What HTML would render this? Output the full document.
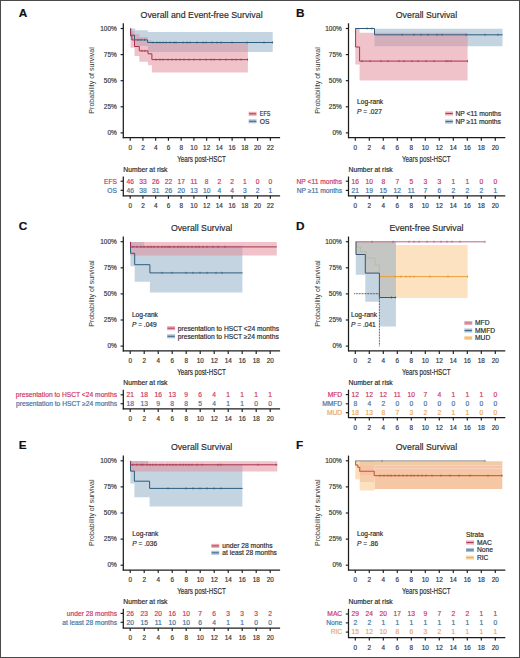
<!DOCTYPE html>
<html><head><meta charset="utf-8"><title>Survival</title>
<style>html,body{margin:0;padding:0;background:#fff;width:520px;height:658px;overflow:hidden}svg{display:block;font-family:"Liberation Sans",sans-serif}</style>
</head><body>
<svg width="520" height="658" viewBox="0 0 520 658" font-family="Liberation Sans, sans-serif">
<rect x="0" y="0" width="520" height="658" fill="#ffffff" />
<path d="M130.4 28.6H134V28.6H135.2V30.2H147.8V31.9H272.7V51.9H147.8V46H135.2V46H134V40H130.4Z" fill="rgb(137,169,195)" fill-opacity="0.5"/>
<path d="M130.6 28.6H131.5V31H134.5V34H139.3V37H148V40.5H151.9V42.6H247.9V72.4H151.9V65.3H148V61.8H139.3V56H134.5V47.8H131.5V47.8H130.6Z" fill="rgb(225,135,149)" fill-opacity="0.5"/>
<path d="M130.4 28.6H130.5V35.2H134.5V39.9H147.6V42.5H272.9" fill="none" stroke="#2e5c7e" stroke-width="1" stroke-linejoin="miter" stroke-linecap="butt"/>
<line x1="138" y1="38.8" x2="138" y2="41" stroke="#2e5c7e" stroke-width="0.7" />
<line x1="141" y1="38.8" x2="141" y2="41" stroke="#2e5c7e" stroke-width="0.7" />
<line x1="144.5" y1="38.8" x2="144.5" y2="41" stroke="#2e5c7e" stroke-width="0.7" />
<line x1="153" y1="41.4" x2="153" y2="43.6" stroke="#2e5c7e" stroke-width="0.7" />
<line x1="157" y1="41.4" x2="157" y2="43.6" stroke="#2e5c7e" stroke-width="0.7" />
<line x1="160" y1="41.4" x2="160" y2="43.6" stroke="#2e5c7e" stroke-width="0.7" />
<line x1="163" y1="41.4" x2="163" y2="43.6" stroke="#2e5c7e" stroke-width="0.7" />
<line x1="166" y1="41.4" x2="166" y2="43.6" stroke="#2e5c7e" stroke-width="0.7" />
<line x1="170" y1="41.4" x2="170" y2="43.6" stroke="#2e5c7e" stroke-width="0.7" />
<line x1="174" y1="41.4" x2="174" y2="43.6" stroke="#2e5c7e" stroke-width="0.7" />
<line x1="176" y1="41.4" x2="176" y2="43.6" stroke="#2e5c7e" stroke-width="0.7" />
<line x1="183" y1="41.4" x2="183" y2="43.6" stroke="#2e5c7e" stroke-width="0.7" />
<line x1="187" y1="41.4" x2="187" y2="43.6" stroke="#2e5c7e" stroke-width="0.7" />
<line x1="190" y1="41.4" x2="190" y2="43.6" stroke="#2e5c7e" stroke-width="0.7" />
<line x1="197" y1="41.4" x2="197" y2="43.6" stroke="#2e5c7e" stroke-width="0.7" />
<line x1="203" y1="41.4" x2="203" y2="43.6" stroke="#2e5c7e" stroke-width="0.7" />
<line x1="206" y1="41.4" x2="206" y2="43.6" stroke="#2e5c7e" stroke-width="0.7" />
<line x1="212" y1="41.4" x2="212" y2="43.6" stroke="#2e5c7e" stroke-width="0.7" />
<line x1="217" y1="41.4" x2="217" y2="43.6" stroke="#2e5c7e" stroke-width="0.7" />
<line x1="221" y1="41.4" x2="221" y2="43.6" stroke="#2e5c7e" stroke-width="0.7" />
<line x1="232" y1="41.4" x2="232" y2="43.6" stroke="#2e5c7e" stroke-width="0.7" />
<line x1="247" y1="41.4" x2="247" y2="43.6" stroke="#2e5c7e" stroke-width="0.7" />
<line x1="264" y1="41.4" x2="264" y2="43.6" stroke="#2e5c7e" stroke-width="0.7" />
<line x1="272.6" y1="41.4" x2="272.6" y2="43.6" stroke="#2e5c7e" stroke-width="0.7" />
<path d="M130.4 28.6H130.7V36H131.9V40H134.5V46.5H139.3V50.9H148V53.8H151.9V59.6H248" fill="none" stroke="#a8304e" stroke-width="1" stroke-linejoin="miter" stroke-linecap="butt"/>
<line x1="142" y1="49.8" x2="142" y2="52" stroke="#a8304e" stroke-width="0.7" />
<line x1="145" y1="49.8" x2="145" y2="52" stroke="#a8304e" stroke-width="0.7" />
<line x1="156" y1="58.5" x2="156" y2="60.7" stroke="#a8304e" stroke-width="0.7" />
<line x1="160" y1="58.5" x2="160" y2="60.7" stroke="#a8304e" stroke-width="0.7" />
<line x1="163" y1="58.5" x2="163" y2="60.7" stroke="#a8304e" stroke-width="0.7" />
<line x1="168" y1="58.5" x2="168" y2="60.7" stroke="#a8304e" stroke-width="0.7" />
<line x1="172" y1="58.5" x2="172" y2="60.7" stroke="#a8304e" stroke-width="0.7" />
<line x1="176" y1="58.5" x2="176" y2="60.7" stroke="#a8304e" stroke-width="0.7" />
<line x1="180" y1="58.5" x2="180" y2="60.7" stroke="#a8304e" stroke-width="0.7" />
<line x1="184" y1="58.5" x2="184" y2="60.7" stroke="#a8304e" stroke-width="0.7" />
<line x1="189" y1="58.5" x2="189" y2="60.7" stroke="#a8304e" stroke-width="0.7" />
<line x1="194" y1="58.5" x2="194" y2="60.7" stroke="#a8304e" stroke-width="0.7" />
<line x1="200" y1="58.5" x2="200" y2="60.7" stroke="#a8304e" stroke-width="0.7" />
<line x1="206" y1="58.5" x2="206" y2="60.7" stroke="#a8304e" stroke-width="0.7" />
<line x1="211" y1="58.5" x2="211" y2="60.7" stroke="#a8304e" stroke-width="0.7" />
<line x1="214" y1="58.5" x2="214" y2="60.7" stroke="#a8304e" stroke-width="0.7" />
<line x1="220" y1="58.5" x2="220" y2="60.7" stroke="#a8304e" stroke-width="0.7" />
<line x1="226" y1="58.5" x2="226" y2="60.7" stroke="#a8304e" stroke-width="0.7" />
<line x1="232" y1="58.5" x2="232" y2="60.7" stroke="#a8304e" stroke-width="0.7" />
<line x1="236" y1="58.5" x2="236" y2="60.7" stroke="#a8304e" stroke-width="0.7" />
<line x1="241" y1="58.5" x2="241" y2="60.7" stroke="#a8304e" stroke-width="0.7" />
<line x1="247.6" y1="58.5" x2="247.6" y2="60.7" stroke="#a8304e" stroke-width="0.7" />
<text x="18.8" y="16.5" font-size="11.8" fill="#111" font-weight="bold" stroke="#111" stroke-width="0.18">A</text>
<text x="140.6" y="17.7" font-size="9.8" fill="#2b2b2b" textLength="122" lengthAdjust="spacingAndGlyphs" stroke="#2b2b2b" stroke-width="0.18">Overall and Event-free Survival</text>
<line x1="123.3" y1="23.3" x2="123.3" y2="138.2" stroke="#1c1c1c" stroke-width="1.25" />
<line x1="120.6" y1="28.5" x2="123.3" y2="28.5" stroke="#1c1c1c" stroke-width="1.15" />
<text x="116.8" y="30.75" font-size="6.5" fill="#3a3a3a" text-anchor="end" stroke="#3a3a3a" stroke-width="0.18">100%</text>
<line x1="120.6" y1="54.6" x2="123.3" y2="54.6" stroke="#1c1c1c" stroke-width="1.15" />
<text x="116.8" y="56.85" font-size="6.5" fill="#3a3a3a" text-anchor="end" stroke="#3a3a3a" stroke-width="0.18">75%</text>
<line x1="120.6" y1="80.7" x2="123.3" y2="80.7" stroke="#1c1c1c" stroke-width="1.15" />
<text x="116.8" y="82.95" font-size="6.5" fill="#3a3a3a" text-anchor="end" stroke="#3a3a3a" stroke-width="0.18">50%</text>
<line x1="120.6" y1="106.8" x2="123.3" y2="106.8" stroke="#1c1c1c" stroke-width="1.15" />
<text x="116.8" y="109.05" font-size="6.5" fill="#3a3a3a" text-anchor="end" stroke="#3a3a3a" stroke-width="0.18">25%</text>
<line x1="120.6" y1="132.9" x2="123.3" y2="132.9" stroke="#1c1c1c" stroke-width="1.15" />
<text x="116.8" y="135.15" font-size="6.5" fill="#3a3a3a" text-anchor="end" stroke="#3a3a3a" stroke-width="0.18">0%</text>
<line x1="122.8" y1="137.7" x2="280.1" y2="137.7" stroke="#1c1c1c" stroke-width="1.25" />
<line x1="130.2" y1="137.7" x2="130.2" y2="140.7" stroke="#1c1c1c" stroke-width="1.15" />
<text x="130.2" y="150" font-size="6.4" fill="#3a3a3a" text-anchor="middle" stroke="#3a3a3a" stroke-width="0.18">0</text>
<line x1="142.94" y1="137.7" x2="142.94" y2="140.7" stroke="#1c1c1c" stroke-width="1.15" />
<text x="142.94" y="150" font-size="6.4" fill="#3a3a3a" text-anchor="middle" stroke="#3a3a3a" stroke-width="0.18">2</text>
<line x1="155.68" y1="137.7" x2="155.68" y2="140.7" stroke="#1c1c1c" stroke-width="1.15" />
<text x="155.68" y="150" font-size="6.4" fill="#3a3a3a" text-anchor="middle" stroke="#3a3a3a" stroke-width="0.18">4</text>
<line x1="168.42" y1="137.7" x2="168.42" y2="140.7" stroke="#1c1c1c" stroke-width="1.15" />
<text x="168.42" y="150" font-size="6.4" fill="#3a3a3a" text-anchor="middle" stroke="#3a3a3a" stroke-width="0.18">6</text>
<line x1="181.16" y1="137.7" x2="181.16" y2="140.7" stroke="#1c1c1c" stroke-width="1.15" />
<text x="181.16" y="150" font-size="6.4" fill="#3a3a3a" text-anchor="middle" stroke="#3a3a3a" stroke-width="0.18">8</text>
<line x1="193.9" y1="137.7" x2="193.9" y2="140.7" stroke="#1c1c1c" stroke-width="1.15" />
<text x="193.9" y="150" font-size="6.4" fill="#3a3a3a" text-anchor="middle" stroke="#3a3a3a" stroke-width="0.18">10</text>
<line x1="206.64" y1="137.7" x2="206.64" y2="140.7" stroke="#1c1c1c" stroke-width="1.15" />
<text x="206.64" y="150" font-size="6.4" fill="#3a3a3a" text-anchor="middle" stroke="#3a3a3a" stroke-width="0.18">12</text>
<line x1="219.38" y1="137.7" x2="219.38" y2="140.7" stroke="#1c1c1c" stroke-width="1.15" />
<text x="219.38" y="150" font-size="6.4" fill="#3a3a3a" text-anchor="middle" stroke="#3a3a3a" stroke-width="0.18">14</text>
<line x1="232.12" y1="137.7" x2="232.12" y2="140.7" stroke="#1c1c1c" stroke-width="1.15" />
<text x="232.12" y="150" font-size="6.4" fill="#3a3a3a" text-anchor="middle" stroke="#3a3a3a" stroke-width="0.18">16</text>
<line x1="244.86" y1="137.7" x2="244.86" y2="140.7" stroke="#1c1c1c" stroke-width="1.15" />
<text x="244.86" y="150" font-size="6.4" fill="#3a3a3a" text-anchor="middle" stroke="#3a3a3a" stroke-width="0.18">18</text>
<line x1="257.6" y1="137.7" x2="257.6" y2="140.7" stroke="#1c1c1c" stroke-width="1.15" />
<text x="257.6" y="150" font-size="6.4" fill="#3a3a3a" text-anchor="middle" stroke="#3a3a3a" stroke-width="0.18">20</text>
<line x1="270.34" y1="137.7" x2="270.34" y2="140.7" stroke="#1c1c1c" stroke-width="1.15" />
<text x="270.34" y="150" font-size="6.4" fill="#3a3a3a" text-anchor="middle" stroke="#3a3a3a" stroke-width="0.18">22</text>
<text x="177.2" y="162.1" font-size="9.4" fill="#2b2b2b" textLength="48.6" lengthAdjust="spacingAndGlyphs" stroke="#2b2b2b" stroke-width="0.18">Years post-HSCT</text>
<text transform="translate(94.1 80.4) rotate(-90)" x="0" y="0" font-size="8" fill="#333" text-anchor="middle" textLength="66.5" lengthAdjust="spacingAndGlyphs">Probability of survival</text>
<rect x="248.6" y="111.8" width="8" height="4" fill="rgb(225,135,149)" fill-opacity="0.7"/>
<line x1="249" y1="113.8" x2="256.2" y2="113.8" stroke="#a8304e" stroke-width="0.9" />
<text x="259.8" y="116.1" font-size="6.7" fill="#2b2b2b" textLength="10.6" lengthAdjust="spacingAndGlyphs" stroke="#2b2b2b" stroke-width="0.18">EFS</text>
<rect x="248.6" y="119.3" width="8" height="4" fill="rgb(137,169,195)" fill-opacity="0.7"/>
<line x1="249" y1="121.3" x2="256.2" y2="121.3" stroke="#2e5c7e" stroke-width="0.9" />
<text x="259.8" y="123.6" font-size="6.7" fill="#2b2b2b" stroke="#2b2b2b" stroke-width="0.18">OS</text>
<text x="123.3" y="171.5" font-size="6.7" fill="#2b2b2b" textLength="44.2" lengthAdjust="spacingAndGlyphs" stroke="#2b2b2b" stroke-width="0.18">Number at risk</text>
<line x1="123.3" y1="176.5" x2="123.3" y2="196.3" stroke="#1c1c1c" stroke-width="1.25" />
<line x1="122.8" y1="195.8" x2="280.1" y2="195.8" stroke="#1c1c1c" stroke-width="1.25" />
<line x1="130.2" y1="195.8" x2="130.2" y2="198.8" stroke="#1c1c1c" stroke-width="1.15" />
<text x="130.2" y="207.8" font-size="6.4" fill="#3a3a3a" text-anchor="middle" stroke="#3a3a3a" stroke-width="0.18">0</text>
<line x1="142.94" y1="195.8" x2="142.94" y2="198.8" stroke="#1c1c1c" stroke-width="1.15" />
<text x="142.94" y="207.8" font-size="6.4" fill="#3a3a3a" text-anchor="middle" stroke="#3a3a3a" stroke-width="0.18">2</text>
<line x1="155.68" y1="195.8" x2="155.68" y2="198.8" stroke="#1c1c1c" stroke-width="1.15" />
<text x="155.68" y="207.8" font-size="6.4" fill="#3a3a3a" text-anchor="middle" stroke="#3a3a3a" stroke-width="0.18">4</text>
<line x1="168.42" y1="195.8" x2="168.42" y2="198.8" stroke="#1c1c1c" stroke-width="1.15" />
<text x="168.42" y="207.8" font-size="6.4" fill="#3a3a3a" text-anchor="middle" stroke="#3a3a3a" stroke-width="0.18">6</text>
<line x1="181.16" y1="195.8" x2="181.16" y2="198.8" stroke="#1c1c1c" stroke-width="1.15" />
<text x="181.16" y="207.8" font-size="6.4" fill="#3a3a3a" text-anchor="middle" stroke="#3a3a3a" stroke-width="0.18">8</text>
<line x1="193.9" y1="195.8" x2="193.9" y2="198.8" stroke="#1c1c1c" stroke-width="1.15" />
<text x="193.9" y="207.8" font-size="6.4" fill="#3a3a3a" text-anchor="middle" stroke="#3a3a3a" stroke-width="0.18">10</text>
<line x1="206.64" y1="195.8" x2="206.64" y2="198.8" stroke="#1c1c1c" stroke-width="1.15" />
<text x="206.64" y="207.8" font-size="6.4" fill="#3a3a3a" text-anchor="middle" stroke="#3a3a3a" stroke-width="0.18">12</text>
<line x1="219.38" y1="195.8" x2="219.38" y2="198.8" stroke="#1c1c1c" stroke-width="1.15" />
<text x="219.38" y="207.8" font-size="6.4" fill="#3a3a3a" text-anchor="middle" stroke="#3a3a3a" stroke-width="0.18">14</text>
<line x1="232.12" y1="195.8" x2="232.12" y2="198.8" stroke="#1c1c1c" stroke-width="1.15" />
<text x="232.12" y="207.8" font-size="6.4" fill="#3a3a3a" text-anchor="middle" stroke="#3a3a3a" stroke-width="0.18">16</text>
<line x1="244.86" y1="195.8" x2="244.86" y2="198.8" stroke="#1c1c1c" stroke-width="1.15" />
<text x="244.86" y="207.8" font-size="6.4" fill="#3a3a3a" text-anchor="middle" stroke="#3a3a3a" stroke-width="0.18">18</text>
<line x1="257.6" y1="195.8" x2="257.6" y2="198.8" stroke="#1c1c1c" stroke-width="1.15" />
<text x="257.6" y="207.8" font-size="6.4" fill="#3a3a3a" text-anchor="middle" stroke="#3a3a3a" stroke-width="0.18">20</text>
<line x1="270.34" y1="195.8" x2="270.34" y2="198.8" stroke="#1c1c1c" stroke-width="1.15" />
<text x="270.34" y="207.8" font-size="6.4" fill="#3a3a3a" text-anchor="middle" stroke="#3a3a3a" stroke-width="0.18">22</text>
<line x1="120.6" y1="181.2" x2="123.3" y2="181.2" stroke="#1c1c1c" stroke-width="1.15" />
<text x="117" y="183.5" font-size="6.7" fill="#cc3660" text-anchor="end" stroke="#cc3660" stroke-width="0.18">EFS</text>
<text x="130.2" y="183.5" font-size="6.7" fill="#cc3660" text-anchor="middle" stroke="#cc3660" stroke-width="0.18">46</text>
<text x="142.94" y="183.5" font-size="6.7" fill="#cc3660" text-anchor="middle" stroke="#cc3660" stroke-width="0.18">33</text>
<text x="155.68" y="183.5" font-size="6.7" fill="#cc3660" text-anchor="middle" stroke="#cc3660" stroke-width="0.18">26</text>
<text x="168.42" y="183.5" font-size="6.7" fill="#cc3660" text-anchor="middle" stroke="#cc3660" stroke-width="0.18">22</text>
<text x="181.16" y="183.5" font-size="6.7" fill="#cc3660" text-anchor="middle" stroke="#cc3660" stroke-width="0.18">17</text>
<text x="193.9" y="183.5" font-size="6.7" fill="#cc3660" text-anchor="middle" stroke="#cc3660" stroke-width="0.18">11</text>
<text x="206.64" y="183.5" font-size="6.7" fill="#cc3660" text-anchor="middle" stroke="#cc3660" stroke-width="0.18">8</text>
<text x="219.38" y="183.5" font-size="6.7" fill="#cc3660" text-anchor="middle" stroke="#cc3660" stroke-width="0.18">2</text>
<text x="232.12" y="183.5" font-size="6.7" fill="#cc3660" text-anchor="middle" stroke="#cc3660" stroke-width="0.18">2</text>
<text x="244.86" y="183.5" font-size="6.7" fill="#cc3660" text-anchor="middle" stroke="#cc3660" stroke-width="0.18">1</text>
<text x="257.6" y="183.5" font-size="6.7" fill="#cc3660" text-anchor="middle" stroke="#cc3660" stroke-width="0.18">0</text>
<text x="270.34" y="183.5" font-size="6.7" fill="#cc3660" text-anchor="middle" stroke="#cc3660" stroke-width="0.18">0</text>
<line x1="120.6" y1="190.3" x2="123.3" y2="190.3" stroke="#1c1c1c" stroke-width="1.15" />
<text x="117" y="192.6" font-size="6.7" fill="#4272a2" text-anchor="end" stroke="#4272a2" stroke-width="0.18">OS</text>
<text x="130.2" y="192.6" font-size="6.7" fill="#4272a2" text-anchor="middle" stroke="#4272a2" stroke-width="0.18">46</text>
<text x="142.94" y="192.6" font-size="6.7" fill="#4272a2" text-anchor="middle" stroke="#4272a2" stroke-width="0.18">38</text>
<text x="155.68" y="192.6" font-size="6.7" fill="#4272a2" text-anchor="middle" stroke="#4272a2" stroke-width="0.18">31</text>
<text x="168.42" y="192.6" font-size="6.7" fill="#4272a2" text-anchor="middle" stroke="#4272a2" stroke-width="0.18">26</text>
<text x="181.16" y="192.6" font-size="6.7" fill="#4272a2" text-anchor="middle" stroke="#4272a2" stroke-width="0.18">20</text>
<text x="193.9" y="192.6" font-size="6.7" fill="#4272a2" text-anchor="middle" stroke="#4272a2" stroke-width="0.18">13</text>
<text x="206.64" y="192.6" font-size="6.7" fill="#4272a2" text-anchor="middle" stroke="#4272a2" stroke-width="0.18">10</text>
<text x="219.38" y="192.6" font-size="6.7" fill="#4272a2" text-anchor="middle" stroke="#4272a2" stroke-width="0.18">4</text>
<text x="232.12" y="192.6" font-size="6.7" fill="#4272a2" text-anchor="middle" stroke="#4272a2" stroke-width="0.18">4</text>
<text x="244.86" y="192.6" font-size="6.7" fill="#4272a2" text-anchor="middle" stroke="#4272a2" stroke-width="0.18">3</text>
<text x="257.6" y="192.6" font-size="6.7" fill="#4272a2" text-anchor="middle" stroke="#4272a2" stroke-width="0.18">2</text>
<text x="270.34" y="192.6" font-size="6.7" fill="#4272a2" text-anchor="middle" stroke="#4272a2" stroke-width="0.18">1</text>
<path d="M355.3 28.5H374.5V28.7H502.5V46.2H374.5V28.9H355.3Z" fill="rgb(137,169,195)" fill-opacity="0.5"/>
<path d="M355.3 28.5H359.6V32.8H467.6V80.5H359.6V64.6H355.3Z" fill="rgb(225,135,149)" fill-opacity="0.5"/>
<path d="M355.3 28.5H374.5V34.8H502.7" fill="none" stroke="#2e5c7e" stroke-width="1" stroke-linejoin="miter" stroke-linecap="butt"/>
<line x1="367" y1="27.4" x2="367" y2="29.6" stroke="#2e5c7e" stroke-width="0.7" />
<line x1="372" y1="27.4" x2="372" y2="29.6" stroke="#2e5c7e" stroke-width="0.7" />
<line x1="402" y1="33.7" x2="402" y2="35.9" stroke="#2e5c7e" stroke-width="0.7" />
<line x1="414" y1="33.7" x2="414" y2="35.9" stroke="#2e5c7e" stroke-width="0.7" />
<line x1="421" y1="33.7" x2="421" y2="35.9" stroke="#2e5c7e" stroke-width="0.7" />
<line x1="428" y1="33.7" x2="428" y2="35.9" stroke="#2e5c7e" stroke-width="0.7" />
<line x1="437" y1="33.7" x2="437" y2="35.9" stroke="#2e5c7e" stroke-width="0.7" />
<line x1="442" y1="33.7" x2="442" y2="35.9" stroke="#2e5c7e" stroke-width="0.7" />
<line x1="466" y1="33.7" x2="466" y2="35.9" stroke="#2e5c7e" stroke-width="0.7" />
<line x1="485" y1="33.7" x2="485" y2="35.9" stroke="#2e5c7e" stroke-width="0.7" />
<line x1="498" y1="33.7" x2="498" y2="35.9" stroke="#2e5c7e" stroke-width="0.7" />
<path d="M355.3 28.5H355.6V47H359.6V61.1H467.8" fill="none" stroke="#a8304e" stroke-width="1" stroke-linejoin="miter" stroke-linecap="butt"/>
<line x1="362" y1="60" x2="362" y2="62.2" stroke="#a8304e" stroke-width="0.7" />
<line x1="370" y1="60" x2="370" y2="62.2" stroke="#a8304e" stroke-width="0.7" />
<line x1="381" y1="60" x2="381" y2="62.2" stroke="#a8304e" stroke-width="0.7" />
<line x1="388" y1="60" x2="388" y2="62.2" stroke="#a8304e" stroke-width="0.7" />
<line x1="399" y1="60" x2="399" y2="62.2" stroke="#a8304e" stroke-width="0.7" />
<line x1="404" y1="60" x2="404" y2="62.2" stroke="#a8304e" stroke-width="0.7" />
<line x1="412" y1="60" x2="412" y2="62.2" stroke="#a8304e" stroke-width="0.7" />
<line x1="418" y1="60" x2="418" y2="62.2" stroke="#a8304e" stroke-width="0.7" />
<line x1="426" y1="60" x2="426" y2="62.2" stroke="#a8304e" stroke-width="0.7" />
<line x1="434" y1="60" x2="434" y2="62.2" stroke="#a8304e" stroke-width="0.7" />
<line x1="446" y1="60" x2="446" y2="62.2" stroke="#a8304e" stroke-width="0.7" />
<line x1="448" y1="60" x2="448" y2="62.2" stroke="#a8304e" stroke-width="0.7" />
<line x1="451" y1="60" x2="451" y2="62.2" stroke="#a8304e" stroke-width="0.7" />
<line x1="467.5" y1="60" x2="467.5" y2="62.2" stroke="#a8304e" stroke-width="0.7" />
<text x="296" y="16.5" font-size="11.8" fill="#111" font-weight="bold" stroke="#111" stroke-width="0.18">B</text>
<text x="395.8" y="17.7" font-size="9.8" fill="#2b2b2b" textLength="61.4" lengthAdjust="spacingAndGlyphs" stroke="#2b2b2b" stroke-width="0.18">Overall Survival</text>
<line x1="348.5" y1="23.3" x2="348.5" y2="138.2" stroke="#1c1c1c" stroke-width="1.25" />
<line x1="345.8" y1="28.5" x2="348.5" y2="28.5" stroke="#1c1c1c" stroke-width="1.15" />
<text x="341.8" y="30.75" font-size="6.5" fill="#3a3a3a" text-anchor="end" stroke="#3a3a3a" stroke-width="0.18">100%</text>
<line x1="345.8" y1="54.6" x2="348.5" y2="54.6" stroke="#1c1c1c" stroke-width="1.15" />
<text x="341.8" y="56.85" font-size="6.5" fill="#3a3a3a" text-anchor="end" stroke="#3a3a3a" stroke-width="0.18">75%</text>
<line x1="345.8" y1="80.7" x2="348.5" y2="80.7" stroke="#1c1c1c" stroke-width="1.15" />
<text x="341.8" y="82.95" font-size="6.5" fill="#3a3a3a" text-anchor="end" stroke="#3a3a3a" stroke-width="0.18">50%</text>
<line x1="345.8" y1="106.8" x2="348.5" y2="106.8" stroke="#1c1c1c" stroke-width="1.15" />
<text x="341.8" y="109.05" font-size="6.5" fill="#3a3a3a" text-anchor="end" stroke="#3a3a3a" stroke-width="0.18">25%</text>
<line x1="345.8" y1="132.9" x2="348.5" y2="132.9" stroke="#1c1c1c" stroke-width="1.15" />
<text x="341.8" y="135.15" font-size="6.5" fill="#3a3a3a" text-anchor="end" stroke="#3a3a3a" stroke-width="0.18">0%</text>
<line x1="348" y1="137.7" x2="505.3" y2="137.7" stroke="#1c1c1c" stroke-width="1.25" />
<line x1="355.3" y1="137.7" x2="355.3" y2="140.7" stroke="#1c1c1c" stroke-width="1.15" />
<text x="355.3" y="150" font-size="6.4" fill="#3a3a3a" text-anchor="middle" stroke="#3a3a3a" stroke-width="0.18">0</text>
<line x1="369.3" y1="137.7" x2="369.3" y2="140.7" stroke="#1c1c1c" stroke-width="1.15" />
<text x="369.3" y="150" font-size="6.4" fill="#3a3a3a" text-anchor="middle" stroke="#3a3a3a" stroke-width="0.18">2</text>
<line x1="383.3" y1="137.7" x2="383.3" y2="140.7" stroke="#1c1c1c" stroke-width="1.15" />
<text x="383.3" y="150" font-size="6.4" fill="#3a3a3a" text-anchor="middle" stroke="#3a3a3a" stroke-width="0.18">4</text>
<line x1="397.3" y1="137.7" x2="397.3" y2="140.7" stroke="#1c1c1c" stroke-width="1.15" />
<text x="397.3" y="150" font-size="6.4" fill="#3a3a3a" text-anchor="middle" stroke="#3a3a3a" stroke-width="0.18">6</text>
<line x1="411.3" y1="137.7" x2="411.3" y2="140.7" stroke="#1c1c1c" stroke-width="1.15" />
<text x="411.3" y="150" font-size="6.4" fill="#3a3a3a" text-anchor="middle" stroke="#3a3a3a" stroke-width="0.18">8</text>
<line x1="425.3" y1="137.7" x2="425.3" y2="140.7" stroke="#1c1c1c" stroke-width="1.15" />
<text x="425.3" y="150" font-size="6.4" fill="#3a3a3a" text-anchor="middle" stroke="#3a3a3a" stroke-width="0.18">10</text>
<line x1="439.3" y1="137.7" x2="439.3" y2="140.7" stroke="#1c1c1c" stroke-width="1.15" />
<text x="439.3" y="150" font-size="6.4" fill="#3a3a3a" text-anchor="middle" stroke="#3a3a3a" stroke-width="0.18">12</text>
<line x1="453.3" y1="137.7" x2="453.3" y2="140.7" stroke="#1c1c1c" stroke-width="1.15" />
<text x="453.3" y="150" font-size="6.4" fill="#3a3a3a" text-anchor="middle" stroke="#3a3a3a" stroke-width="0.18">14</text>
<line x1="467.3" y1="137.7" x2="467.3" y2="140.7" stroke="#1c1c1c" stroke-width="1.15" />
<text x="467.3" y="150" font-size="6.4" fill="#3a3a3a" text-anchor="middle" stroke="#3a3a3a" stroke-width="0.18">16</text>
<line x1="481.3" y1="137.7" x2="481.3" y2="140.7" stroke="#1c1c1c" stroke-width="1.15" />
<text x="481.3" y="150" font-size="6.4" fill="#3a3a3a" text-anchor="middle" stroke="#3a3a3a" stroke-width="0.18">18</text>
<line x1="495.3" y1="137.7" x2="495.3" y2="140.7" stroke="#1c1c1c" stroke-width="1.15" />
<text x="495.3" y="150" font-size="6.4" fill="#3a3a3a" text-anchor="middle" stroke="#3a3a3a" stroke-width="0.18">20</text>
<text x="402" y="162.1" font-size="9.4" fill="#2b2b2b" textLength="48.6" lengthAdjust="spacingAndGlyphs" stroke="#2b2b2b" stroke-width="0.18">Years post-HSCT</text>
<text transform="translate(319.6 80.4) rotate(-90)" x="0" y="0" font-size="8" fill="#333" text-anchor="middle" textLength="66.5" lengthAdjust="spacingAndGlyphs">Probability of survival</text>
<text x="357.1" y="103.5" font-size="6.6" fill="#2b2b2b" stroke="#2b2b2b" stroke-width="0.18">Log-rank</text>
<text x="357.1" y="113.5" font-size="6.6" fill="#2b2b2b" stroke="#2b2b2b" stroke-width="0.18"><tspan font-style="italic">P</tspan> = .027</text>
<rect x="445.1" y="111.5" width="8" height="4" fill="rgb(225,135,149)" fill-opacity="0.7"/>
<line x1="445.5" y1="113.5" x2="452.7" y2="113.5" stroke="#a8304e" stroke-width="0.9" />
<text x="455.5" y="115.8" font-size="6.7" fill="#2b2b2b" stroke="#2b2b2b" stroke-width="0.18">NP &lt;11 months</text>
<rect x="445.1" y="119.6" width="8" height="4" fill="rgb(137,169,195)" fill-opacity="0.7"/>
<line x1="445.5" y1="121.6" x2="452.7" y2="121.6" stroke="#2e5c7e" stroke-width="0.9" />
<text x="455.5" y="123.9" font-size="6.7" fill="#2b2b2b" stroke="#2b2b2b" stroke-width="0.18">NP ≥11 months</text>
<text x="348.5" y="171.5" font-size="6.7" fill="#2b2b2b" textLength="44.2" lengthAdjust="spacingAndGlyphs" stroke="#2b2b2b" stroke-width="0.18">Number at risk</text>
<line x1="348.5" y1="176.5" x2="348.5" y2="196.3" stroke="#1c1c1c" stroke-width="1.25" />
<line x1="348" y1="195.8" x2="505.3" y2="195.8" stroke="#1c1c1c" stroke-width="1.25" />
<line x1="355.3" y1="195.8" x2="355.3" y2="198.8" stroke="#1c1c1c" stroke-width="1.15" />
<text x="355.3" y="207.6" font-size="6.4" fill="#3a3a3a" text-anchor="middle" stroke="#3a3a3a" stroke-width="0.18">0</text>
<line x1="369.3" y1="195.8" x2="369.3" y2="198.8" stroke="#1c1c1c" stroke-width="1.15" />
<text x="369.3" y="207.6" font-size="6.4" fill="#3a3a3a" text-anchor="middle" stroke="#3a3a3a" stroke-width="0.18">2</text>
<line x1="383.3" y1="195.8" x2="383.3" y2="198.8" stroke="#1c1c1c" stroke-width="1.15" />
<text x="383.3" y="207.6" font-size="6.4" fill="#3a3a3a" text-anchor="middle" stroke="#3a3a3a" stroke-width="0.18">4</text>
<line x1="397.3" y1="195.8" x2="397.3" y2="198.8" stroke="#1c1c1c" stroke-width="1.15" />
<text x="397.3" y="207.6" font-size="6.4" fill="#3a3a3a" text-anchor="middle" stroke="#3a3a3a" stroke-width="0.18">6</text>
<line x1="411.3" y1="195.8" x2="411.3" y2="198.8" stroke="#1c1c1c" stroke-width="1.15" />
<text x="411.3" y="207.6" font-size="6.4" fill="#3a3a3a" text-anchor="middle" stroke="#3a3a3a" stroke-width="0.18">8</text>
<line x1="425.3" y1="195.8" x2="425.3" y2="198.8" stroke="#1c1c1c" stroke-width="1.15" />
<text x="425.3" y="207.6" font-size="6.4" fill="#3a3a3a" text-anchor="middle" stroke="#3a3a3a" stroke-width="0.18">10</text>
<line x1="439.3" y1="195.8" x2="439.3" y2="198.8" stroke="#1c1c1c" stroke-width="1.15" />
<text x="439.3" y="207.6" font-size="6.4" fill="#3a3a3a" text-anchor="middle" stroke="#3a3a3a" stroke-width="0.18">12</text>
<line x1="453.3" y1="195.8" x2="453.3" y2="198.8" stroke="#1c1c1c" stroke-width="1.15" />
<text x="453.3" y="207.6" font-size="6.4" fill="#3a3a3a" text-anchor="middle" stroke="#3a3a3a" stroke-width="0.18">14</text>
<line x1="467.3" y1="195.8" x2="467.3" y2="198.8" stroke="#1c1c1c" stroke-width="1.15" />
<text x="467.3" y="207.6" font-size="6.4" fill="#3a3a3a" text-anchor="middle" stroke="#3a3a3a" stroke-width="0.18">16</text>
<line x1="481.3" y1="195.8" x2="481.3" y2="198.8" stroke="#1c1c1c" stroke-width="1.15" />
<text x="481.3" y="207.6" font-size="6.4" fill="#3a3a3a" text-anchor="middle" stroke="#3a3a3a" stroke-width="0.18">18</text>
<line x1="495.3" y1="195.8" x2="495.3" y2="198.8" stroke="#1c1c1c" stroke-width="1.15" />
<text x="495.3" y="207.6" font-size="6.4" fill="#3a3a3a" text-anchor="middle" stroke="#3a3a3a" stroke-width="0.18">20</text>
<line x1="345.8" y1="181.2" x2="348.5" y2="181.2" stroke="#1c1c1c" stroke-width="1.15" />
<text x="342.2" y="183.5" font-size="6.7" fill="#cc3660" text-anchor="end" stroke="#cc3660" stroke-width="0.18">NP &lt;11 months</text>
<text x="355.3" y="183.5" font-size="6.7" fill="#cc3660" text-anchor="middle" stroke="#cc3660" stroke-width="0.18">16</text>
<text x="369.3" y="183.5" font-size="6.7" fill="#cc3660" text-anchor="middle" stroke="#cc3660" stroke-width="0.18">10</text>
<text x="383.3" y="183.5" font-size="6.7" fill="#cc3660" text-anchor="middle" stroke="#cc3660" stroke-width="0.18">8</text>
<text x="397.3" y="183.5" font-size="6.7" fill="#cc3660" text-anchor="middle" stroke="#cc3660" stroke-width="0.18">7</text>
<text x="411.3" y="183.5" font-size="6.7" fill="#cc3660" text-anchor="middle" stroke="#cc3660" stroke-width="0.18">5</text>
<text x="425.3" y="183.5" font-size="6.7" fill="#cc3660" text-anchor="middle" stroke="#cc3660" stroke-width="0.18">3</text>
<text x="439.3" y="183.5" font-size="6.7" fill="#cc3660" text-anchor="middle" stroke="#cc3660" stroke-width="0.18">3</text>
<text x="453.3" y="183.5" font-size="6.7" fill="#cc3660" text-anchor="middle" stroke="#cc3660" stroke-width="0.18">1</text>
<text x="467.3" y="183.5" font-size="6.7" fill="#cc3660" text-anchor="middle" stroke="#cc3660" stroke-width="0.18">1</text>
<text x="481.3" y="183.5" font-size="6.7" fill="#cc3660" text-anchor="middle" stroke="#cc3660" stroke-width="0.18">0</text>
<text x="495.3" y="183.5" font-size="6.7" fill="#cc3660" text-anchor="middle" stroke="#cc3660" stroke-width="0.18">0</text>
<line x1="345.8" y1="190.4" x2="348.5" y2="190.4" stroke="#1c1c1c" stroke-width="1.15" />
<text x="342.2" y="192.7" font-size="6.7" fill="#4272a2" text-anchor="end" stroke="#4272a2" stroke-width="0.18">NP ≥11 months</text>
<text x="355.3" y="192.7" font-size="6.7" fill="#4272a2" text-anchor="middle" stroke="#4272a2" stroke-width="0.18">21</text>
<text x="369.3" y="192.7" font-size="6.7" fill="#4272a2" text-anchor="middle" stroke="#4272a2" stroke-width="0.18">19</text>
<text x="383.3" y="192.7" font-size="6.7" fill="#4272a2" text-anchor="middle" stroke="#4272a2" stroke-width="0.18">15</text>
<text x="397.3" y="192.7" font-size="6.7" fill="#4272a2" text-anchor="middle" stroke="#4272a2" stroke-width="0.18">12</text>
<text x="411.3" y="192.7" font-size="6.7" fill="#4272a2" text-anchor="middle" stroke="#4272a2" stroke-width="0.18">11</text>
<text x="425.3" y="192.7" font-size="6.7" fill="#4272a2" text-anchor="middle" stroke="#4272a2" stroke-width="0.18">7</text>
<text x="439.3" y="192.7" font-size="6.7" fill="#4272a2" text-anchor="middle" stroke="#4272a2" stroke-width="0.18">6</text>
<text x="453.3" y="192.7" font-size="6.7" fill="#4272a2" text-anchor="middle" stroke="#4272a2" stroke-width="0.18">2</text>
<text x="467.3" y="192.7" font-size="6.7" fill="#4272a2" text-anchor="middle" stroke="#4272a2" stroke-width="0.18">2</text>
<text x="481.3" y="192.7" font-size="6.7" fill="#4272a2" text-anchor="middle" stroke="#4272a2" stroke-width="0.18">2</text>
<text x="495.3" y="192.7" font-size="6.7" fill="#4272a2" text-anchor="middle" stroke="#4272a2" stroke-width="0.18">1</text>
<path d="M130.4 242H134.7V242H144.2V245.7H149.9V245.7H242.4V292.5H149.9V281.7H144.2V281.7H134.7V266.2H130.4Z" fill="rgb(137,169,195)" fill-opacity="0.5"/>
<path d="M130.4 242H276.8V255.6H130.4Z" fill="rgb(225,135,149)" fill-opacity="0.5"/>
<path d="M130.4 242H130.5V253.3H134.7V264.7H149.9V272.9H242.6" fill="none" stroke="#2e5c7e" stroke-width="1" stroke-linejoin="miter" stroke-linecap="butt"/>
<line x1="162" y1="271.8" x2="162" y2="274" stroke="#2e5c7e" stroke-width="0.7" />
<line x1="172" y1="271.8" x2="172" y2="274" stroke="#2e5c7e" stroke-width="0.7" />
<line x1="186" y1="271.8" x2="186" y2="274" stroke="#2e5c7e" stroke-width="0.7" />
<line x1="193" y1="271.8" x2="193" y2="274" stroke="#2e5c7e" stroke-width="0.7" />
<line x1="200" y1="271.8" x2="200" y2="274" stroke="#2e5c7e" stroke-width="0.7" />
<line x1="207" y1="271.8" x2="207" y2="274" stroke="#2e5c7e" stroke-width="0.7" />
<line x1="216" y1="271.8" x2="216" y2="274" stroke="#2e5c7e" stroke-width="0.7" />
<line x1="222" y1="271.8" x2="222" y2="274" stroke="#2e5c7e" stroke-width="0.7" />
<path d="M130.4 242H130.6V246.9H276.8" fill="none" stroke="#a8304e" stroke-width="1" stroke-linejoin="miter" stroke-linecap="butt"/>
<line x1="133" y1="245.8" x2="133" y2="248" stroke="#a8304e" stroke-width="0.7" />
<line x1="137" y1="245.8" x2="137" y2="248" stroke="#a8304e" stroke-width="0.7" />
<line x1="141" y1="245.8" x2="141" y2="248" stroke="#a8304e" stroke-width="0.7" />
<line x1="144" y1="245.8" x2="144" y2="248" stroke="#a8304e" stroke-width="0.7" />
<line x1="148" y1="245.8" x2="148" y2="248" stroke="#a8304e" stroke-width="0.7" />
<line x1="151" y1="245.8" x2="151" y2="248" stroke="#a8304e" stroke-width="0.7" />
<line x1="154" y1="245.8" x2="154" y2="248" stroke="#a8304e" stroke-width="0.7" />
<line x1="158" y1="245.8" x2="158" y2="248" stroke="#a8304e" stroke-width="0.7" />
<line x1="162" y1="245.8" x2="162" y2="248" stroke="#a8304e" stroke-width="0.7" />
<line x1="165" y1="245.8" x2="165" y2="248" stroke="#a8304e" stroke-width="0.7" />
<line x1="168" y1="245.8" x2="168" y2="248" stroke="#a8304e" stroke-width="0.7" />
<line x1="170" y1="245.8" x2="170" y2="248" stroke="#a8304e" stroke-width="0.7" />
<line x1="174" y1="245.8" x2="174" y2="248" stroke="#a8304e" stroke-width="0.7" />
<line x1="178" y1="245.8" x2="178" y2="248" stroke="#a8304e" stroke-width="0.7" />
<line x1="181" y1="245.8" x2="181" y2="248" stroke="#a8304e" stroke-width="0.7" />
<line x1="184" y1="245.8" x2="184" y2="248" stroke="#a8304e" stroke-width="0.7" />
<line x1="188" y1="245.8" x2="188" y2="248" stroke="#a8304e" stroke-width="0.7" />
<line x1="192" y1="245.8" x2="192" y2="248" stroke="#a8304e" stroke-width="0.7" />
<line x1="196" y1="245.8" x2="196" y2="248" stroke="#a8304e" stroke-width="0.7" />
<line x1="199" y1="245.8" x2="199" y2="248" stroke="#a8304e" stroke-width="0.7" />
<line x1="203" y1="245.8" x2="203" y2="248" stroke="#a8304e" stroke-width="0.7" />
<line x1="207" y1="245.8" x2="207" y2="248" stroke="#a8304e" stroke-width="0.7" />
<line x1="213" y1="245.8" x2="213" y2="248" stroke="#a8304e" stroke-width="0.7" />
<line x1="218" y1="245.8" x2="218" y2="248" stroke="#a8304e" stroke-width="0.7" />
<line x1="225" y1="245.8" x2="225" y2="248" stroke="#a8304e" stroke-width="0.7" />
<text x="18.8" y="229.7" font-size="11.8" fill="#111" font-weight="bold" stroke="#111" stroke-width="0.18">C</text>
<text x="170.9" y="230.9" font-size="9.8" fill="#2b2b2b" textLength="61.4" lengthAdjust="spacingAndGlyphs" stroke="#2b2b2b" stroke-width="0.18">Overall Survival</text>
<line x1="123.3" y1="236.5" x2="123.3" y2="351.4" stroke="#1c1c1c" stroke-width="1.25" />
<line x1="120.6" y1="241.7" x2="123.3" y2="241.7" stroke="#1c1c1c" stroke-width="1.15" />
<text x="116.8" y="243.95" font-size="6.5" fill="#3a3a3a" text-anchor="end" stroke="#3a3a3a" stroke-width="0.18">100%</text>
<line x1="120.6" y1="267.8" x2="123.3" y2="267.8" stroke="#1c1c1c" stroke-width="1.15" />
<text x="116.8" y="270.05" font-size="6.5" fill="#3a3a3a" text-anchor="end" stroke="#3a3a3a" stroke-width="0.18">75%</text>
<line x1="120.6" y1="293.9" x2="123.3" y2="293.9" stroke="#1c1c1c" stroke-width="1.15" />
<text x="116.8" y="296.15" font-size="6.5" fill="#3a3a3a" text-anchor="end" stroke="#3a3a3a" stroke-width="0.18">50%</text>
<line x1="120.6" y1="320" x2="123.3" y2="320" stroke="#1c1c1c" stroke-width="1.15" />
<text x="116.8" y="322.25" font-size="6.5" fill="#3a3a3a" text-anchor="end" stroke="#3a3a3a" stroke-width="0.18">25%</text>
<line x1="120.6" y1="346.1" x2="123.3" y2="346.1" stroke="#1c1c1c" stroke-width="1.15" />
<text x="116.8" y="348.35" font-size="6.5" fill="#3a3a3a" text-anchor="end" stroke="#3a3a3a" stroke-width="0.18">0%</text>
<line x1="122.8" y1="350.9" x2="280.1" y2="350.9" stroke="#1c1c1c" stroke-width="1.25" />
<line x1="130.2" y1="350.9" x2="130.2" y2="353.9" stroke="#1c1c1c" stroke-width="1.15" />
<text x="130.2" y="363.2" font-size="6.4" fill="#3a3a3a" text-anchor="middle" stroke="#3a3a3a" stroke-width="0.18">0</text>
<line x1="144.2" y1="350.9" x2="144.2" y2="353.9" stroke="#1c1c1c" stroke-width="1.15" />
<text x="144.2" y="363.2" font-size="6.4" fill="#3a3a3a" text-anchor="middle" stroke="#3a3a3a" stroke-width="0.18">2</text>
<line x1="158.2" y1="350.9" x2="158.2" y2="353.9" stroke="#1c1c1c" stroke-width="1.15" />
<text x="158.2" y="363.2" font-size="6.4" fill="#3a3a3a" text-anchor="middle" stroke="#3a3a3a" stroke-width="0.18">4</text>
<line x1="172.2" y1="350.9" x2="172.2" y2="353.9" stroke="#1c1c1c" stroke-width="1.15" />
<text x="172.2" y="363.2" font-size="6.4" fill="#3a3a3a" text-anchor="middle" stroke="#3a3a3a" stroke-width="0.18">6</text>
<line x1="186.2" y1="350.9" x2="186.2" y2="353.9" stroke="#1c1c1c" stroke-width="1.15" />
<text x="186.2" y="363.2" font-size="6.4" fill="#3a3a3a" text-anchor="middle" stroke="#3a3a3a" stroke-width="0.18">8</text>
<line x1="200.2" y1="350.9" x2="200.2" y2="353.9" stroke="#1c1c1c" stroke-width="1.15" />
<text x="200.2" y="363.2" font-size="6.4" fill="#3a3a3a" text-anchor="middle" stroke="#3a3a3a" stroke-width="0.18">10</text>
<line x1="214.2" y1="350.9" x2="214.2" y2="353.9" stroke="#1c1c1c" stroke-width="1.15" />
<text x="214.2" y="363.2" font-size="6.4" fill="#3a3a3a" text-anchor="middle" stroke="#3a3a3a" stroke-width="0.18">12</text>
<line x1="228.2" y1="350.9" x2="228.2" y2="353.9" stroke="#1c1c1c" stroke-width="1.15" />
<text x="228.2" y="363.2" font-size="6.4" fill="#3a3a3a" text-anchor="middle" stroke="#3a3a3a" stroke-width="0.18">14</text>
<line x1="242.2" y1="350.9" x2="242.2" y2="353.9" stroke="#1c1c1c" stroke-width="1.15" />
<text x="242.2" y="363.2" font-size="6.4" fill="#3a3a3a" text-anchor="middle" stroke="#3a3a3a" stroke-width="0.18">16</text>
<line x1="256.2" y1="350.9" x2="256.2" y2="353.9" stroke="#1c1c1c" stroke-width="1.15" />
<text x="256.2" y="363.2" font-size="6.4" fill="#3a3a3a" text-anchor="middle" stroke="#3a3a3a" stroke-width="0.18">18</text>
<line x1="270.2" y1="350.9" x2="270.2" y2="353.9" stroke="#1c1c1c" stroke-width="1.15" />
<text x="270.2" y="363.2" font-size="6.4" fill="#3a3a3a" text-anchor="middle" stroke="#3a3a3a" stroke-width="0.18">20</text>
<text x="177.2" y="375.3" font-size="9.4" fill="#2b2b2b" textLength="48.6" lengthAdjust="spacingAndGlyphs" stroke="#2b2b2b" stroke-width="0.18">Years post-HSCT</text>
<text transform="translate(94.1 293.6) rotate(-90)" x="0" y="0" font-size="8" fill="#333" text-anchor="middle" textLength="66.5" lengthAdjust="spacingAndGlyphs">Probability of survival</text>
<text x="131.9" y="316.7" font-size="6.6" fill="#2b2b2b" stroke="#2b2b2b" stroke-width="0.18">Log-rank</text>
<text x="131.9" y="326.7" font-size="6.6" fill="#2b2b2b" stroke="#2b2b2b" stroke-width="0.18"><tspan font-style="italic">P</tspan> = .049</text>
<rect x="167.1" y="326.2" width="8" height="4" fill="rgb(225,135,149)" fill-opacity="0.7"/>
<line x1="167.5" y1="328.2" x2="174.7" y2="328.2" stroke="#a8304e" stroke-width="0.9" />
<text x="177.8" y="330.5" font-size="6.7" fill="#2b2b2b" stroke="#2b2b2b" stroke-width="0.18">presentation to HSCT &lt;24 months</text>
<rect x="167.1" y="334.3" width="8" height="4" fill="rgb(137,169,195)" fill-opacity="0.7"/>
<line x1="167.5" y1="336.3" x2="174.7" y2="336.3" stroke="#2e5c7e" stroke-width="0.9" />
<text x="177.8" y="338.6" font-size="6.7" fill="#2b2b2b" stroke="#2b2b2b" stroke-width="0.18">presentation to HSCT ≥24 months</text>
<text x="123.3" y="384.7" font-size="6.7" fill="#2b2b2b" textLength="44.2" lengthAdjust="spacingAndGlyphs" stroke="#2b2b2b" stroke-width="0.18">Number at risk</text>
<line x1="123.3" y1="389.7" x2="123.3" y2="409.4" stroke="#1c1c1c" stroke-width="1.25" />
<line x1="122.8" y1="408.9" x2="280.1" y2="408.9" stroke="#1c1c1c" stroke-width="1.25" />
<line x1="130.2" y1="408.9" x2="130.2" y2="411.9" stroke="#1c1c1c" stroke-width="1.15" />
<text x="130.2" y="421" font-size="6.4" fill="#3a3a3a" text-anchor="middle" stroke="#3a3a3a" stroke-width="0.18">0</text>
<line x1="144.2" y1="408.9" x2="144.2" y2="411.9" stroke="#1c1c1c" stroke-width="1.15" />
<text x="144.2" y="421" font-size="6.4" fill="#3a3a3a" text-anchor="middle" stroke="#3a3a3a" stroke-width="0.18">2</text>
<line x1="158.2" y1="408.9" x2="158.2" y2="411.9" stroke="#1c1c1c" stroke-width="1.15" />
<text x="158.2" y="421" font-size="6.4" fill="#3a3a3a" text-anchor="middle" stroke="#3a3a3a" stroke-width="0.18">4</text>
<line x1="172.2" y1="408.9" x2="172.2" y2="411.9" stroke="#1c1c1c" stroke-width="1.15" />
<text x="172.2" y="421" font-size="6.4" fill="#3a3a3a" text-anchor="middle" stroke="#3a3a3a" stroke-width="0.18">6</text>
<line x1="186.2" y1="408.9" x2="186.2" y2="411.9" stroke="#1c1c1c" stroke-width="1.15" />
<text x="186.2" y="421" font-size="6.4" fill="#3a3a3a" text-anchor="middle" stroke="#3a3a3a" stroke-width="0.18">8</text>
<line x1="200.2" y1="408.9" x2="200.2" y2="411.9" stroke="#1c1c1c" stroke-width="1.15" />
<text x="200.2" y="421" font-size="6.4" fill="#3a3a3a" text-anchor="middle" stroke="#3a3a3a" stroke-width="0.18">10</text>
<line x1="214.2" y1="408.9" x2="214.2" y2="411.9" stroke="#1c1c1c" stroke-width="1.15" />
<text x="214.2" y="421" font-size="6.4" fill="#3a3a3a" text-anchor="middle" stroke="#3a3a3a" stroke-width="0.18">12</text>
<line x1="228.2" y1="408.9" x2="228.2" y2="411.9" stroke="#1c1c1c" stroke-width="1.15" />
<text x="228.2" y="421" font-size="6.4" fill="#3a3a3a" text-anchor="middle" stroke="#3a3a3a" stroke-width="0.18">14</text>
<line x1="242.2" y1="408.9" x2="242.2" y2="411.9" stroke="#1c1c1c" stroke-width="1.15" />
<text x="242.2" y="421" font-size="6.4" fill="#3a3a3a" text-anchor="middle" stroke="#3a3a3a" stroke-width="0.18">16</text>
<line x1="256.2" y1="408.9" x2="256.2" y2="411.9" stroke="#1c1c1c" stroke-width="1.15" />
<text x="256.2" y="421" font-size="6.4" fill="#3a3a3a" text-anchor="middle" stroke="#3a3a3a" stroke-width="0.18">18</text>
<line x1="270.2" y1="408.9" x2="270.2" y2="411.9" stroke="#1c1c1c" stroke-width="1.15" />
<text x="270.2" y="421" font-size="6.4" fill="#3a3a3a" text-anchor="middle" stroke="#3a3a3a" stroke-width="0.18">20</text>
<line x1="120.6" y1="394.8" x2="123.3" y2="394.8" stroke="#1c1c1c" stroke-width="1.15" />
<text x="117" y="397.1" font-size="6.7" fill="#cc3660" text-anchor="end" stroke="#cc3660" stroke-width="0.18">presentation to HSCT &lt;24 months</text>
<text x="130.2" y="397.1" font-size="6.7" fill="#cc3660" text-anchor="middle" stroke="#cc3660" stroke-width="0.18">21</text>
<text x="144.2" y="397.1" font-size="6.7" fill="#cc3660" text-anchor="middle" stroke="#cc3660" stroke-width="0.18">18</text>
<text x="158.2" y="397.1" font-size="6.7" fill="#cc3660" text-anchor="middle" stroke="#cc3660" stroke-width="0.18">16</text>
<text x="172.2" y="397.1" font-size="6.7" fill="#cc3660" text-anchor="middle" stroke="#cc3660" stroke-width="0.18">13</text>
<text x="186.2" y="397.1" font-size="6.7" fill="#cc3660" text-anchor="middle" stroke="#cc3660" stroke-width="0.18">9</text>
<text x="200.2" y="397.1" font-size="6.7" fill="#cc3660" text-anchor="middle" stroke="#cc3660" stroke-width="0.18">6</text>
<text x="214.2" y="397.1" font-size="6.7" fill="#cc3660" text-anchor="middle" stroke="#cc3660" stroke-width="0.18">4</text>
<text x="228.2" y="397.1" font-size="6.7" fill="#cc3660" text-anchor="middle" stroke="#cc3660" stroke-width="0.18">1</text>
<text x="242.2" y="397.1" font-size="6.7" fill="#cc3660" text-anchor="middle" stroke="#cc3660" stroke-width="0.18">1</text>
<text x="256.2" y="397.1" font-size="6.7" fill="#cc3660" text-anchor="middle" stroke="#cc3660" stroke-width="0.18">1</text>
<text x="270.2" y="397.1" font-size="6.7" fill="#cc3660" text-anchor="middle" stroke="#cc3660" stroke-width="0.18">1</text>
<line x1="120.6" y1="403.7" x2="123.3" y2="403.7" stroke="#1c1c1c" stroke-width="1.15" />
<text x="117" y="406" font-size="6.7" fill="#4272a2" text-anchor="end" stroke="#4272a2" stroke-width="0.18">presentation to HSCT ≥24 months</text>
<text x="130.2" y="406" font-size="6.7" fill="#4272a2" text-anchor="middle" stroke="#4272a2" stroke-width="0.18">18</text>
<text x="144.2" y="406" font-size="6.7" fill="#4272a2" text-anchor="middle" stroke="#4272a2" stroke-width="0.18">13</text>
<text x="158.2" y="406" font-size="6.7" fill="#4272a2" text-anchor="middle" stroke="#4272a2" stroke-width="0.18">9</text>
<text x="172.2" y="406" font-size="6.7" fill="#4272a2" text-anchor="middle" stroke="#4272a2" stroke-width="0.18">8</text>
<text x="186.2" y="406" font-size="6.7" fill="#4272a2" text-anchor="middle" stroke="#4272a2" stroke-width="0.18">8</text>
<text x="200.2" y="406" font-size="6.7" fill="#4272a2" text-anchor="middle" stroke="#4272a2" stroke-width="0.18">5</text>
<text x="214.2" y="406" font-size="6.7" fill="#4272a2" text-anchor="middle" stroke="#4272a2" stroke-width="0.18">4</text>
<text x="228.2" y="406" font-size="6.7" fill="#4272a2" text-anchor="middle" stroke="#4272a2" stroke-width="0.18">1</text>
<text x="242.2" y="406" font-size="6.7" fill="#4272a2" text-anchor="middle" stroke="#4272a2" stroke-width="0.18">1</text>
<text x="256.2" y="406" font-size="6.7" fill="#4272a2" text-anchor="middle" stroke="#4272a2" stroke-width="0.18">0</text>
<text x="270.2" y="406" font-size="6.7" fill="#4272a2" text-anchor="middle" stroke="#4272a2" stroke-width="0.18">0</text>
<path d="M355.8 241.8H365.3V241.8H379.4V241.8H395.9V245H467.6V298H395.9V298H379.4V273.2H365.3V255H355.8Z" fill="rgb(249,197,129)" fill-opacity="0.5"/>
<path d="M355.8 241.8H356.5V247H360.5V251.5H366V258H375V265H379.4V276.6H379.9" fill="none" stroke="#f2c47a" stroke-width="0.8" stroke-linejoin="miter" stroke-linecap="butt"/>
<path d="M355.8 241.8H365.3V241.8H379.4V241.8H395.9V326.5H379.4V301.7H365.3V274.8H355.8Z" fill="rgb(137,169,195)" fill-opacity="0.5"/>
<path d="M354.3 293.7H379.4V346.4" fill="none" stroke="#222" stroke-width="0.9" stroke-dasharray="0.8 0.75"/>
<path d="M379.4 276.6H467.6" fill="none" stroke="#e8a23a" stroke-width="1" stroke-linejoin="miter" stroke-linecap="butt"/>
<line x1="395" y1="275.5" x2="395" y2="277.7" stroke="#d08a2a" stroke-width="0.7" />
<line x1="401" y1="275.5" x2="401" y2="277.7" stroke="#d08a2a" stroke-width="0.7" />
<line x1="406" y1="275.5" x2="406" y2="277.7" stroke="#d08a2a" stroke-width="0.7" />
<line x1="410" y1="275.5" x2="410" y2="277.7" stroke="#d08a2a" stroke-width="0.7" />
<line x1="414" y1="275.5" x2="414" y2="277.7" stroke="#d08a2a" stroke-width="0.7" />
<line x1="430" y1="275.5" x2="430" y2="277.7" stroke="#d08a2a" stroke-width="0.7" />
<line x1="448" y1="275.5" x2="448" y2="277.7" stroke="#d08a2a" stroke-width="0.7" />
<line x1="467.5" y1="275.5" x2="467.5" y2="277.7" stroke="#d08a2a" stroke-width="0.7" />
<path d="M355.8 241.8H356V254.5H365.3V273.1H379.4V297.5H395.9" fill="none" stroke="#3a5670" stroke-width="1" stroke-linejoin="miter" stroke-linecap="butt"/>
<line x1="391.5" y1="296.4" x2="391.5" y2="298.6" stroke="#3a5670" stroke-width="0.7" />
<line x1="395.6" y1="296.4" x2="395.6" y2="298.6" stroke="#3a5670" stroke-width="0.7" />
<path d="M355.8 241.8H485" fill="none" stroke="#c0608a" stroke-width="1" stroke-linejoin="miter" stroke-linecap="butt"/>
<line x1="372" y1="240.7" x2="372" y2="242.9" stroke="#b04a78" stroke-width="0.7" />
<line x1="393" y1="240.7" x2="393" y2="242.9" stroke="#b04a78" stroke-width="0.7" />
<line x1="409" y1="240.7" x2="409" y2="242.9" stroke="#b04a78" stroke-width="0.7" />
<line x1="414" y1="240.7" x2="414" y2="242.9" stroke="#b04a78" stroke-width="0.7" />
<line x1="419" y1="240.7" x2="419" y2="242.9" stroke="#b04a78" stroke-width="0.7" />
<line x1="427" y1="240.7" x2="427" y2="242.9" stroke="#b04a78" stroke-width="0.7" />
<line x1="434" y1="240.7" x2="434" y2="242.9" stroke="#b04a78" stroke-width="0.7" />
<line x1="441" y1="240.7" x2="441" y2="242.9" stroke="#b04a78" stroke-width="0.7" />
<line x1="447" y1="240.7" x2="447" y2="242.9" stroke="#b04a78" stroke-width="0.7" />
<line x1="452" y1="240.7" x2="452" y2="242.9" stroke="#b04a78" stroke-width="0.7" />
<line x1="460" y1="240.7" x2="460" y2="242.9" stroke="#b04a78" stroke-width="0.7" />
<line x1="485" y1="240.7" x2="485" y2="242.9" stroke="#b04a78" stroke-width="0.7" />
<text x="296" y="229.7" font-size="11.8" fill="#111" font-weight="bold" stroke="#111" stroke-width="0.18">D</text>
<text x="389.45" y="230.9" font-size="9.8" fill="#2b2b2b" textLength="74.1" lengthAdjust="spacingAndGlyphs" stroke="#2b2b2b" stroke-width="0.18">Event-free Survival</text>
<line x1="348.5" y1="236.5" x2="348.5" y2="351.4" stroke="#1c1c1c" stroke-width="1.25" />
<line x1="345.8" y1="241.7" x2="348.5" y2="241.7" stroke="#1c1c1c" stroke-width="1.15" />
<text x="341.8" y="243.95" font-size="6.5" fill="#3a3a3a" text-anchor="end" stroke="#3a3a3a" stroke-width="0.18">100%</text>
<line x1="345.8" y1="267.8" x2="348.5" y2="267.8" stroke="#1c1c1c" stroke-width="1.15" />
<text x="341.8" y="270.05" font-size="6.5" fill="#3a3a3a" text-anchor="end" stroke="#3a3a3a" stroke-width="0.18">75%</text>
<line x1="345.8" y1="293.9" x2="348.5" y2="293.9" stroke="#1c1c1c" stroke-width="1.15" />
<text x="341.8" y="296.15" font-size="6.5" fill="#3a3a3a" text-anchor="end" stroke="#3a3a3a" stroke-width="0.18">50%</text>
<line x1="345.8" y1="320" x2="348.5" y2="320" stroke="#1c1c1c" stroke-width="1.15" />
<text x="341.8" y="322.25" font-size="6.5" fill="#3a3a3a" text-anchor="end" stroke="#3a3a3a" stroke-width="0.18">25%</text>
<line x1="345.8" y1="346.1" x2="348.5" y2="346.1" stroke="#1c1c1c" stroke-width="1.15" />
<text x="341.8" y="348.35" font-size="6.5" fill="#3a3a3a" text-anchor="end" stroke="#3a3a3a" stroke-width="0.18">0%</text>
<line x1="348" y1="350.9" x2="505.3" y2="350.9" stroke="#1c1c1c" stroke-width="1.25" />
<line x1="355.3" y1="350.9" x2="355.3" y2="353.9" stroke="#1c1c1c" stroke-width="1.15" />
<text x="355.3" y="363.2" font-size="6.4" fill="#3a3a3a" text-anchor="middle" stroke="#3a3a3a" stroke-width="0.18">0</text>
<line x1="369.3" y1="350.9" x2="369.3" y2="353.9" stroke="#1c1c1c" stroke-width="1.15" />
<text x="369.3" y="363.2" font-size="6.4" fill="#3a3a3a" text-anchor="middle" stroke="#3a3a3a" stroke-width="0.18">2</text>
<line x1="383.3" y1="350.9" x2="383.3" y2="353.9" stroke="#1c1c1c" stroke-width="1.15" />
<text x="383.3" y="363.2" font-size="6.4" fill="#3a3a3a" text-anchor="middle" stroke="#3a3a3a" stroke-width="0.18">4</text>
<line x1="397.3" y1="350.9" x2="397.3" y2="353.9" stroke="#1c1c1c" stroke-width="1.15" />
<text x="397.3" y="363.2" font-size="6.4" fill="#3a3a3a" text-anchor="middle" stroke="#3a3a3a" stroke-width="0.18">6</text>
<line x1="411.3" y1="350.9" x2="411.3" y2="353.9" stroke="#1c1c1c" stroke-width="1.15" />
<text x="411.3" y="363.2" font-size="6.4" fill="#3a3a3a" text-anchor="middle" stroke="#3a3a3a" stroke-width="0.18">8</text>
<line x1="425.3" y1="350.9" x2="425.3" y2="353.9" stroke="#1c1c1c" stroke-width="1.15" />
<text x="425.3" y="363.2" font-size="6.4" fill="#3a3a3a" text-anchor="middle" stroke="#3a3a3a" stroke-width="0.18">10</text>
<line x1="439.3" y1="350.9" x2="439.3" y2="353.9" stroke="#1c1c1c" stroke-width="1.15" />
<text x="439.3" y="363.2" font-size="6.4" fill="#3a3a3a" text-anchor="middle" stroke="#3a3a3a" stroke-width="0.18">12</text>
<line x1="453.3" y1="350.9" x2="453.3" y2="353.9" stroke="#1c1c1c" stroke-width="1.15" />
<text x="453.3" y="363.2" font-size="6.4" fill="#3a3a3a" text-anchor="middle" stroke="#3a3a3a" stroke-width="0.18">14</text>
<line x1="467.3" y1="350.9" x2="467.3" y2="353.9" stroke="#1c1c1c" stroke-width="1.15" />
<text x="467.3" y="363.2" font-size="6.4" fill="#3a3a3a" text-anchor="middle" stroke="#3a3a3a" stroke-width="0.18">16</text>
<line x1="481.3" y1="350.9" x2="481.3" y2="353.9" stroke="#1c1c1c" stroke-width="1.15" />
<text x="481.3" y="363.2" font-size="6.4" fill="#3a3a3a" text-anchor="middle" stroke="#3a3a3a" stroke-width="0.18">18</text>
<line x1="495.3" y1="350.9" x2="495.3" y2="353.9" stroke="#1c1c1c" stroke-width="1.15" />
<text x="495.3" y="363.2" font-size="6.4" fill="#3a3a3a" text-anchor="middle" stroke="#3a3a3a" stroke-width="0.18">20</text>
<text x="402" y="375.3" font-size="9.4" fill="#2b2b2b" textLength="48.6" lengthAdjust="spacingAndGlyphs" stroke="#2b2b2b" stroke-width="0.18">Years post-HSCT</text>
<text transform="translate(319.6 293.6) rotate(-90)" x="0" y="0" font-size="8" fill="#333" text-anchor="middle" textLength="66.5" lengthAdjust="spacingAndGlyphs">Probability of survival</text>
<text x="351" y="316.7" font-size="6.6" fill="#2b2b2b" stroke="#2b2b2b" stroke-width="0.18">Log-rank</text>
<text x="351" y="326.9" font-size="6.6" fill="#2b2b2b" stroke="#2b2b2b" stroke-width="0.18"><tspan font-style="italic">P</tspan> = .041</text>
<rect x="464.3" y="321" width="8" height="4" fill="rgb(225,135,149)" fill-opacity="0.7"/>
<line x1="464.7" y1="323" x2="471.9" y2="323" stroke="#c0608a" stroke-width="0.9" />
<text x="475" y="325.3" font-size="6.7" fill="#2b2b2b" stroke="#2b2b2b" stroke-width="0.18">MFD</text>
<rect x="464.3" y="328.5" width="8" height="4" fill="rgb(137,169,195)" fill-opacity="0.7"/>
<line x1="464.7" y1="330.5" x2="471.9" y2="330.5" stroke="#2e5c7e" stroke-width="0.9" />
<text x="475" y="332.8" font-size="6.7" fill="#2b2b2b" stroke="#2b2b2b" stroke-width="0.18">MMFD</text>
<rect x="464.3" y="336" width="8" height="4" fill="rgb(249,197,129)" fill-opacity="0.7"/>
<line x1="464.7" y1="338" x2="471.9" y2="338" stroke="#e8a23a" stroke-width="0.9" />
<text x="475" y="340.3" font-size="6.7" fill="#2b2b2b" stroke="#2b2b2b" stroke-width="0.18">MUD</text>
<text x="348.5" y="384.7" font-size="6.7" fill="#2b2b2b" textLength="44.2" lengthAdjust="spacingAndGlyphs" stroke="#2b2b2b" stroke-width="0.18">Number at risk</text>
<line x1="348.5" y1="389.7" x2="348.5" y2="418" stroke="#1c1c1c" stroke-width="1.25" />
<line x1="348" y1="417.5" x2="505.3" y2="417.5" stroke="#1c1c1c" stroke-width="1.25" />
<line x1="355.3" y1="417.5" x2="355.3" y2="420.5" stroke="#1c1c1c" stroke-width="1.15" />
<text x="355.3" y="429.5" font-size="6.4" fill="#3a3a3a" text-anchor="middle" stroke="#3a3a3a" stroke-width="0.18">0</text>
<line x1="369.3" y1="417.5" x2="369.3" y2="420.5" stroke="#1c1c1c" stroke-width="1.15" />
<text x="369.3" y="429.5" font-size="6.4" fill="#3a3a3a" text-anchor="middle" stroke="#3a3a3a" stroke-width="0.18">2</text>
<line x1="383.3" y1="417.5" x2="383.3" y2="420.5" stroke="#1c1c1c" stroke-width="1.15" />
<text x="383.3" y="429.5" font-size="6.4" fill="#3a3a3a" text-anchor="middle" stroke="#3a3a3a" stroke-width="0.18">4</text>
<line x1="397.3" y1="417.5" x2="397.3" y2="420.5" stroke="#1c1c1c" stroke-width="1.15" />
<text x="397.3" y="429.5" font-size="6.4" fill="#3a3a3a" text-anchor="middle" stroke="#3a3a3a" stroke-width="0.18">6</text>
<line x1="411.3" y1="417.5" x2="411.3" y2="420.5" stroke="#1c1c1c" stroke-width="1.15" />
<text x="411.3" y="429.5" font-size="6.4" fill="#3a3a3a" text-anchor="middle" stroke="#3a3a3a" stroke-width="0.18">8</text>
<line x1="425.3" y1="417.5" x2="425.3" y2="420.5" stroke="#1c1c1c" stroke-width="1.15" />
<text x="425.3" y="429.5" font-size="6.4" fill="#3a3a3a" text-anchor="middle" stroke="#3a3a3a" stroke-width="0.18">10</text>
<line x1="439.3" y1="417.5" x2="439.3" y2="420.5" stroke="#1c1c1c" stroke-width="1.15" />
<text x="439.3" y="429.5" font-size="6.4" fill="#3a3a3a" text-anchor="middle" stroke="#3a3a3a" stroke-width="0.18">12</text>
<line x1="453.3" y1="417.5" x2="453.3" y2="420.5" stroke="#1c1c1c" stroke-width="1.15" />
<text x="453.3" y="429.5" font-size="6.4" fill="#3a3a3a" text-anchor="middle" stroke="#3a3a3a" stroke-width="0.18">14</text>
<line x1="467.3" y1="417.5" x2="467.3" y2="420.5" stroke="#1c1c1c" stroke-width="1.15" />
<text x="467.3" y="429.5" font-size="6.4" fill="#3a3a3a" text-anchor="middle" stroke="#3a3a3a" stroke-width="0.18">16</text>
<line x1="481.3" y1="417.5" x2="481.3" y2="420.5" stroke="#1c1c1c" stroke-width="1.15" />
<text x="481.3" y="429.5" font-size="6.4" fill="#3a3a3a" text-anchor="middle" stroke="#3a3a3a" stroke-width="0.18">18</text>
<line x1="495.3" y1="417.5" x2="495.3" y2="420.5" stroke="#1c1c1c" stroke-width="1.15" />
<text x="495.3" y="429.5" font-size="6.4" fill="#3a3a3a" text-anchor="middle" stroke="#3a3a3a" stroke-width="0.18">20</text>
<line x1="345.8" y1="394.6" x2="348.5" y2="394.6" stroke="#1c1c1c" stroke-width="1.15" />
<text x="342.2" y="396.9" font-size="6.7" fill="#cc3660" text-anchor="end" stroke="#cc3660" stroke-width="0.18">MFD</text>
<text x="355.3" y="396.9" font-size="6.7" fill="#cc3660" text-anchor="middle" stroke="#cc3660" stroke-width="0.18">12</text>
<text x="369.3" y="396.9" font-size="6.7" fill="#cc3660" text-anchor="middle" stroke="#cc3660" stroke-width="0.18">12</text>
<text x="383.3" y="396.9" font-size="6.7" fill="#cc3660" text-anchor="middle" stroke="#cc3660" stroke-width="0.18">12</text>
<text x="397.3" y="396.9" font-size="6.7" fill="#cc3660" text-anchor="middle" stroke="#cc3660" stroke-width="0.18">11</text>
<text x="411.3" y="396.9" font-size="6.7" fill="#cc3660" text-anchor="middle" stroke="#cc3660" stroke-width="0.18">10</text>
<text x="425.3" y="396.9" font-size="6.7" fill="#cc3660" text-anchor="middle" stroke="#cc3660" stroke-width="0.18">7</text>
<text x="439.3" y="396.9" font-size="6.7" fill="#cc3660" text-anchor="middle" stroke="#cc3660" stroke-width="0.18">4</text>
<text x="453.3" y="396.9" font-size="6.7" fill="#cc3660" text-anchor="middle" stroke="#cc3660" stroke-width="0.18">1</text>
<text x="467.3" y="396.9" font-size="6.7" fill="#cc3660" text-anchor="middle" stroke="#cc3660" stroke-width="0.18">1</text>
<text x="481.3" y="396.9" font-size="6.7" fill="#cc3660" text-anchor="middle" stroke="#cc3660" stroke-width="0.18">1</text>
<text x="495.3" y="396.9" font-size="6.7" fill="#cc3660" text-anchor="middle" stroke="#cc3660" stroke-width="0.18">0</text>
<line x1="345.8" y1="403.8" x2="348.5" y2="403.8" stroke="#1c1c1c" stroke-width="1.15" />
<text x="342.2" y="406.1" font-size="6.7" fill="#4272a2" text-anchor="end" stroke="#4272a2" stroke-width="0.18">MMFD</text>
<text x="355.3" y="406.1" font-size="6.7" fill="#4272a2" text-anchor="middle" stroke="#4272a2" stroke-width="0.18">8</text>
<text x="369.3" y="406.1" font-size="6.7" fill="#4272a2" text-anchor="middle" stroke="#4272a2" stroke-width="0.18">4</text>
<text x="383.3" y="406.1" font-size="6.7" fill="#4272a2" text-anchor="middle" stroke="#4272a2" stroke-width="0.18">2</text>
<text x="397.3" y="406.1" font-size="6.7" fill="#4272a2" text-anchor="middle" stroke="#4272a2" stroke-width="0.18">0</text>
<text x="411.3" y="406.1" font-size="6.7" fill="#4272a2" text-anchor="middle" stroke="#4272a2" stroke-width="0.18">0</text>
<text x="425.3" y="406.1" font-size="6.7" fill="#4272a2" text-anchor="middle" stroke="#4272a2" stroke-width="0.18">0</text>
<text x="439.3" y="406.1" font-size="6.7" fill="#4272a2" text-anchor="middle" stroke="#4272a2" stroke-width="0.18">0</text>
<text x="453.3" y="406.1" font-size="6.7" fill="#4272a2" text-anchor="middle" stroke="#4272a2" stroke-width="0.18">0</text>
<text x="467.3" y="406.1" font-size="6.7" fill="#4272a2" text-anchor="middle" stroke="#4272a2" stroke-width="0.18">0</text>
<text x="481.3" y="406.1" font-size="6.7" fill="#4272a2" text-anchor="middle" stroke="#4272a2" stroke-width="0.18">0</text>
<text x="495.3" y="406.1" font-size="6.7" fill="#4272a2" text-anchor="middle" stroke="#4272a2" stroke-width="0.18">0</text>
<line x1="345.8" y1="412.7" x2="348.5" y2="412.7" stroke="#1c1c1c" stroke-width="1.15" />
<text x="342.2" y="415" font-size="6.7" fill="#eaa955" text-anchor="end" stroke="#eaa955" stroke-width="0.18">MUD</text>
<text x="355.3" y="415" font-size="6.7" fill="#eaa955" text-anchor="middle" stroke="#eaa955" stroke-width="0.18">18</text>
<text x="369.3" y="415" font-size="6.7" fill="#eaa955" text-anchor="middle" stroke="#eaa955" stroke-width="0.18">13</text>
<text x="383.3" y="415" font-size="6.7" fill="#eaa955" text-anchor="middle" stroke="#eaa955" stroke-width="0.18">8</text>
<text x="397.3" y="415" font-size="6.7" fill="#eaa955" text-anchor="middle" stroke="#eaa955" stroke-width="0.18">7</text>
<text x="411.3" y="415" font-size="6.7" fill="#eaa955" text-anchor="middle" stroke="#eaa955" stroke-width="0.18">3</text>
<text x="425.3" y="415" font-size="6.7" fill="#eaa955" text-anchor="middle" stroke="#eaa955" stroke-width="0.18">2</text>
<text x="439.3" y="415" font-size="6.7" fill="#eaa955" text-anchor="middle" stroke="#eaa955" stroke-width="0.18">2</text>
<text x="453.3" y="415" font-size="6.7" fill="#eaa955" text-anchor="middle" stroke="#eaa955" stroke-width="0.18">1</text>
<text x="467.3" y="415" font-size="6.7" fill="#eaa955" text-anchor="middle" stroke="#eaa955" stroke-width="0.18">1</text>
<text x="481.3" y="415" font-size="6.7" fill="#eaa955" text-anchor="middle" stroke="#eaa955" stroke-width="0.18">0</text>
<text x="495.3" y="415" font-size="6.7" fill="#eaa955" text-anchor="middle" stroke="#eaa955" stroke-width="0.18">0</text>
<path d="M130.4 461.1H134.4V461.1H148.3V464.6H149.6V464.6H242.4V506.5H149.6V497.3H148.3V497.3H134.4V483.5H130.4Z" fill="rgb(137,169,195)" fill-opacity="0.5"/>
<path d="M130.4 461.2H277.3V471.5H130.4Z" fill="rgb(225,135,149)" fill-opacity="0.5"/>
<path d="M130.4 461.1H130.5V471.1H134.4V481.2H149.6V488.4H242.6" fill="none" stroke="#2e5c7e" stroke-width="1" stroke-linejoin="miter" stroke-linecap="butt"/>
<line x1="168" y1="487.3" x2="168" y2="489.5" stroke="#2e5c7e" stroke-width="0.7" />
<line x1="186" y1="487.3" x2="186" y2="489.5" stroke="#2e5c7e" stroke-width="0.7" />
<line x1="193" y1="487.3" x2="193" y2="489.5" stroke="#2e5c7e" stroke-width="0.7" />
<line x1="200" y1="487.3" x2="200" y2="489.5" stroke="#2e5c7e" stroke-width="0.7" />
<line x1="207" y1="487.3" x2="207" y2="489.5" stroke="#2e5c7e" stroke-width="0.7" />
<line x1="214" y1="487.3" x2="214" y2="489.5" stroke="#2e5c7e" stroke-width="0.7" />
<line x1="221" y1="487.3" x2="221" y2="489.5" stroke="#2e5c7e" stroke-width="0.7" />
<path d="M130.4 461.1H130.6V464.8H277.3" fill="none" stroke="#a8304e" stroke-width="1" stroke-linejoin="miter" stroke-linecap="butt"/>
<line x1="133" y1="463.7" x2="133" y2="465.9" stroke="#a8304e" stroke-width="0.7" />
<line x1="137" y1="463.7" x2="137" y2="465.9" stroke="#a8304e" stroke-width="0.7" />
<line x1="141" y1="463.7" x2="141" y2="465.9" stroke="#a8304e" stroke-width="0.7" />
<line x1="143" y1="463.7" x2="143" y2="465.9" stroke="#a8304e" stroke-width="0.7" />
<line x1="147" y1="463.7" x2="147" y2="465.9" stroke="#a8304e" stroke-width="0.7" />
<line x1="150" y1="463.7" x2="150" y2="465.9" stroke="#a8304e" stroke-width="0.7" />
<line x1="153" y1="463.7" x2="153" y2="465.9" stroke="#a8304e" stroke-width="0.7" />
<line x1="156" y1="463.7" x2="156" y2="465.9" stroke="#a8304e" stroke-width="0.7" />
<line x1="160" y1="463.7" x2="160" y2="465.9" stroke="#a8304e" stroke-width="0.7" />
<line x1="163" y1="463.7" x2="163" y2="465.9" stroke="#a8304e" stroke-width="0.7" />
<line x1="167" y1="463.7" x2="167" y2="465.9" stroke="#a8304e" stroke-width="0.7" />
<line x1="170" y1="463.7" x2="170" y2="465.9" stroke="#a8304e" stroke-width="0.7" />
<line x1="173" y1="463.7" x2="173" y2="465.9" stroke="#a8304e" stroke-width="0.7" />
<line x1="176" y1="463.7" x2="176" y2="465.9" stroke="#a8304e" stroke-width="0.7" />
<line x1="180" y1="463.7" x2="180" y2="465.9" stroke="#a8304e" stroke-width="0.7" />
<line x1="183" y1="463.7" x2="183" y2="465.9" stroke="#a8304e" stroke-width="0.7" />
<line x1="186" y1="463.7" x2="186" y2="465.9" stroke="#a8304e" stroke-width="0.7" />
<line x1="189" y1="463.7" x2="189" y2="465.9" stroke="#a8304e" stroke-width="0.7" />
<line x1="192" y1="463.7" x2="192" y2="465.9" stroke="#a8304e" stroke-width="0.7" />
<line x1="197" y1="463.7" x2="197" y2="465.9" stroke="#a8304e" stroke-width="0.7" />
<line x1="202" y1="463.7" x2="202" y2="465.9" stroke="#a8304e" stroke-width="0.7" />
<line x1="218" y1="463.7" x2="218" y2="465.9" stroke="#a8304e" stroke-width="0.7" />
<line x1="221" y1="463.7" x2="221" y2="465.9" stroke="#a8304e" stroke-width="0.7" />
<line x1="258" y1="463.7" x2="258" y2="465.9" stroke="#a8304e" stroke-width="0.7" />
<line x1="276" y1="463.7" x2="276" y2="465.9" stroke="#a8304e" stroke-width="0.7" />
<text x="18.8" y="448.8" font-size="11.8" fill="#111" font-weight="bold" stroke="#111" stroke-width="0.18">E</text>
<text x="170.9" y="450" font-size="9.8" fill="#2b2b2b" textLength="61.4" lengthAdjust="spacingAndGlyphs" stroke="#2b2b2b" stroke-width="0.18">Overall Survival</text>
<line x1="123.3" y1="455.6" x2="123.3" y2="570.5" stroke="#1c1c1c" stroke-width="1.25" />
<line x1="120.6" y1="460.8" x2="123.3" y2="460.8" stroke="#1c1c1c" stroke-width="1.15" />
<text x="116.8" y="463.05" font-size="6.5" fill="#3a3a3a" text-anchor="end" stroke="#3a3a3a" stroke-width="0.18">100%</text>
<line x1="120.6" y1="486.9" x2="123.3" y2="486.9" stroke="#1c1c1c" stroke-width="1.15" />
<text x="116.8" y="489.15" font-size="6.5" fill="#3a3a3a" text-anchor="end" stroke="#3a3a3a" stroke-width="0.18">75%</text>
<line x1="120.6" y1="513" x2="123.3" y2="513" stroke="#1c1c1c" stroke-width="1.15" />
<text x="116.8" y="515.25" font-size="6.5" fill="#3a3a3a" text-anchor="end" stroke="#3a3a3a" stroke-width="0.18">50%</text>
<line x1="120.6" y1="539.1" x2="123.3" y2="539.1" stroke="#1c1c1c" stroke-width="1.15" />
<text x="116.8" y="541.35" font-size="6.5" fill="#3a3a3a" text-anchor="end" stroke="#3a3a3a" stroke-width="0.18">25%</text>
<line x1="120.6" y1="565.2" x2="123.3" y2="565.2" stroke="#1c1c1c" stroke-width="1.15" />
<text x="116.8" y="567.45" font-size="6.5" fill="#3a3a3a" text-anchor="end" stroke="#3a3a3a" stroke-width="0.18">0%</text>
<line x1="122.8" y1="570" x2="280.1" y2="570" stroke="#1c1c1c" stroke-width="1.25" />
<line x1="130.2" y1="570" x2="130.2" y2="573" stroke="#1c1c1c" stroke-width="1.15" />
<text x="130.2" y="582.3" font-size="6.4" fill="#3a3a3a" text-anchor="middle" stroke="#3a3a3a" stroke-width="0.18">0</text>
<line x1="144.2" y1="570" x2="144.2" y2="573" stroke="#1c1c1c" stroke-width="1.15" />
<text x="144.2" y="582.3" font-size="6.4" fill="#3a3a3a" text-anchor="middle" stroke="#3a3a3a" stroke-width="0.18">2</text>
<line x1="158.2" y1="570" x2="158.2" y2="573" stroke="#1c1c1c" stroke-width="1.15" />
<text x="158.2" y="582.3" font-size="6.4" fill="#3a3a3a" text-anchor="middle" stroke="#3a3a3a" stroke-width="0.18">4</text>
<line x1="172.2" y1="570" x2="172.2" y2="573" stroke="#1c1c1c" stroke-width="1.15" />
<text x="172.2" y="582.3" font-size="6.4" fill="#3a3a3a" text-anchor="middle" stroke="#3a3a3a" stroke-width="0.18">6</text>
<line x1="186.2" y1="570" x2="186.2" y2="573" stroke="#1c1c1c" stroke-width="1.15" />
<text x="186.2" y="582.3" font-size="6.4" fill="#3a3a3a" text-anchor="middle" stroke="#3a3a3a" stroke-width="0.18">8</text>
<line x1="200.2" y1="570" x2="200.2" y2="573" stroke="#1c1c1c" stroke-width="1.15" />
<text x="200.2" y="582.3" font-size="6.4" fill="#3a3a3a" text-anchor="middle" stroke="#3a3a3a" stroke-width="0.18">10</text>
<line x1="214.2" y1="570" x2="214.2" y2="573" stroke="#1c1c1c" stroke-width="1.15" />
<text x="214.2" y="582.3" font-size="6.4" fill="#3a3a3a" text-anchor="middle" stroke="#3a3a3a" stroke-width="0.18">12</text>
<line x1="228.2" y1="570" x2="228.2" y2="573" stroke="#1c1c1c" stroke-width="1.15" />
<text x="228.2" y="582.3" font-size="6.4" fill="#3a3a3a" text-anchor="middle" stroke="#3a3a3a" stroke-width="0.18">14</text>
<line x1="242.2" y1="570" x2="242.2" y2="573" stroke="#1c1c1c" stroke-width="1.15" />
<text x="242.2" y="582.3" font-size="6.4" fill="#3a3a3a" text-anchor="middle" stroke="#3a3a3a" stroke-width="0.18">16</text>
<line x1="256.2" y1="570" x2="256.2" y2="573" stroke="#1c1c1c" stroke-width="1.15" />
<text x="256.2" y="582.3" font-size="6.4" fill="#3a3a3a" text-anchor="middle" stroke="#3a3a3a" stroke-width="0.18">18</text>
<line x1="270.2" y1="570" x2="270.2" y2="573" stroke="#1c1c1c" stroke-width="1.15" />
<text x="270.2" y="582.3" font-size="6.4" fill="#3a3a3a" text-anchor="middle" stroke="#3a3a3a" stroke-width="0.18">20</text>
<text x="177.2" y="594.4" font-size="9.4" fill="#2b2b2b" textLength="48.6" lengthAdjust="spacingAndGlyphs" stroke="#2b2b2b" stroke-width="0.18">Years post-HSCT</text>
<text transform="translate(94.1 512.7) rotate(-90)" x="0" y="0" font-size="8" fill="#333" text-anchor="middle" textLength="66.5" lengthAdjust="spacingAndGlyphs">Probability of survival</text>
<text x="132.3" y="535.8" font-size="6.6" fill="#2b2b2b" stroke="#2b2b2b" stroke-width="0.18">Log-rank</text>
<text x="132.3" y="545.8" font-size="6.6" fill="#2b2b2b" stroke="#2b2b2b" stroke-width="0.18"><tspan font-style="italic">P</tspan> = .036</text>
<rect x="211.3" y="543.9" width="8" height="4" fill="rgb(225,135,149)" fill-opacity="0.7"/>
<line x1="211.7" y1="545.9" x2="218.9" y2="545.9" stroke="#a8304e" stroke-width="0.9" />
<text x="222.3" y="548.2" font-size="6.7" fill="#2b2b2b" stroke="#2b2b2b" stroke-width="0.18">under 28 months</text>
<rect x="211.3" y="550.8" width="8" height="4" fill="rgb(137,169,195)" fill-opacity="0.7"/>
<line x1="211.7" y1="552.8" x2="218.9" y2="552.8" stroke="#2e5c7e" stroke-width="0.9" />
<text x="222.3" y="555.1" font-size="6.7" fill="#2b2b2b" stroke="#2b2b2b" stroke-width="0.18">at least 28 months</text>
<text x="123.3" y="603.8" font-size="6.7" fill="#2b2b2b" textLength="44.2" lengthAdjust="spacingAndGlyphs" stroke="#2b2b2b" stroke-width="0.18">Number at risk</text>
<line x1="123.3" y1="608.8" x2="123.3" y2="628.6" stroke="#1c1c1c" stroke-width="1.25" />
<line x1="122.8" y1="628.1" x2="280.1" y2="628.1" stroke="#1c1c1c" stroke-width="1.25" />
<line x1="130.2" y1="628.1" x2="130.2" y2="631.1" stroke="#1c1c1c" stroke-width="1.15" />
<text x="130.2" y="639.7" font-size="6.4" fill="#3a3a3a" text-anchor="middle" stroke="#3a3a3a" stroke-width="0.18">0</text>
<line x1="144.2" y1="628.1" x2="144.2" y2="631.1" stroke="#1c1c1c" stroke-width="1.15" />
<text x="144.2" y="639.7" font-size="6.4" fill="#3a3a3a" text-anchor="middle" stroke="#3a3a3a" stroke-width="0.18">2</text>
<line x1="158.2" y1="628.1" x2="158.2" y2="631.1" stroke="#1c1c1c" stroke-width="1.15" />
<text x="158.2" y="639.7" font-size="6.4" fill="#3a3a3a" text-anchor="middle" stroke="#3a3a3a" stroke-width="0.18">4</text>
<line x1="172.2" y1="628.1" x2="172.2" y2="631.1" stroke="#1c1c1c" stroke-width="1.15" />
<text x="172.2" y="639.7" font-size="6.4" fill="#3a3a3a" text-anchor="middle" stroke="#3a3a3a" stroke-width="0.18">6</text>
<line x1="186.2" y1="628.1" x2="186.2" y2="631.1" stroke="#1c1c1c" stroke-width="1.15" />
<text x="186.2" y="639.7" font-size="6.4" fill="#3a3a3a" text-anchor="middle" stroke="#3a3a3a" stroke-width="0.18">8</text>
<line x1="200.2" y1="628.1" x2="200.2" y2="631.1" stroke="#1c1c1c" stroke-width="1.15" />
<text x="200.2" y="639.7" font-size="6.4" fill="#3a3a3a" text-anchor="middle" stroke="#3a3a3a" stroke-width="0.18">10</text>
<line x1="214.2" y1="628.1" x2="214.2" y2="631.1" stroke="#1c1c1c" stroke-width="1.15" />
<text x="214.2" y="639.7" font-size="6.4" fill="#3a3a3a" text-anchor="middle" stroke="#3a3a3a" stroke-width="0.18">12</text>
<line x1="228.2" y1="628.1" x2="228.2" y2="631.1" stroke="#1c1c1c" stroke-width="1.15" />
<text x="228.2" y="639.7" font-size="6.4" fill="#3a3a3a" text-anchor="middle" stroke="#3a3a3a" stroke-width="0.18">14</text>
<line x1="242.2" y1="628.1" x2="242.2" y2="631.1" stroke="#1c1c1c" stroke-width="1.15" />
<text x="242.2" y="639.7" font-size="6.4" fill="#3a3a3a" text-anchor="middle" stroke="#3a3a3a" stroke-width="0.18">16</text>
<line x1="256.2" y1="628.1" x2="256.2" y2="631.1" stroke="#1c1c1c" stroke-width="1.15" />
<text x="256.2" y="639.7" font-size="6.4" fill="#3a3a3a" text-anchor="middle" stroke="#3a3a3a" stroke-width="0.18">18</text>
<line x1="270.2" y1="628.1" x2="270.2" y2="631.1" stroke="#1c1c1c" stroke-width="1.15" />
<text x="270.2" y="639.7" font-size="6.4" fill="#3a3a3a" text-anchor="middle" stroke="#3a3a3a" stroke-width="0.18">20</text>
<line x1="120.6" y1="613.4" x2="123.3" y2="613.4" stroke="#1c1c1c" stroke-width="1.15" />
<text x="117" y="615.7" font-size="6.7" fill="#cc3660" text-anchor="end" stroke="#cc3660" stroke-width="0.18">under 28 months</text>
<text x="130.2" y="615.7" font-size="6.7" fill="#cc3660" text-anchor="middle" stroke="#cc3660" stroke-width="0.18">26</text>
<text x="144.2" y="615.7" font-size="6.7" fill="#cc3660" text-anchor="middle" stroke="#cc3660" stroke-width="0.18">23</text>
<text x="158.2" y="615.7" font-size="6.7" fill="#cc3660" text-anchor="middle" stroke="#cc3660" stroke-width="0.18">20</text>
<text x="172.2" y="615.7" font-size="6.7" fill="#cc3660" text-anchor="middle" stroke="#cc3660" stroke-width="0.18">16</text>
<text x="186.2" y="615.7" font-size="6.7" fill="#cc3660" text-anchor="middle" stroke="#cc3660" stroke-width="0.18">10</text>
<text x="200.2" y="615.7" font-size="6.7" fill="#cc3660" text-anchor="middle" stroke="#cc3660" stroke-width="0.18">7</text>
<text x="214.2" y="615.7" font-size="6.7" fill="#cc3660" text-anchor="middle" stroke="#cc3660" stroke-width="0.18">6</text>
<text x="228.2" y="615.7" font-size="6.7" fill="#cc3660" text-anchor="middle" stroke="#cc3660" stroke-width="0.18">3</text>
<text x="242.2" y="615.7" font-size="6.7" fill="#cc3660" text-anchor="middle" stroke="#cc3660" stroke-width="0.18">3</text>
<text x="256.2" y="615.7" font-size="6.7" fill="#cc3660" text-anchor="middle" stroke="#cc3660" stroke-width="0.18">3</text>
<text x="270.2" y="615.7" font-size="6.7" fill="#cc3660" text-anchor="middle" stroke="#cc3660" stroke-width="0.18">2</text>
<line x1="120.6" y1="622.3" x2="123.3" y2="622.3" stroke="#1c1c1c" stroke-width="1.15" />
<text x="117" y="624.6" font-size="6.7" fill="#4272a2" text-anchor="end" stroke="#4272a2" stroke-width="0.18">at least 28 months</text>
<text x="130.2" y="624.6" font-size="6.7" fill="#4272a2" text-anchor="middle" stroke="#4272a2" stroke-width="0.18">20</text>
<text x="144.2" y="624.6" font-size="6.7" fill="#4272a2" text-anchor="middle" stroke="#4272a2" stroke-width="0.18">15</text>
<text x="158.2" y="624.6" font-size="6.7" fill="#4272a2" text-anchor="middle" stroke="#4272a2" stroke-width="0.18">11</text>
<text x="172.2" y="624.6" font-size="6.7" fill="#4272a2" text-anchor="middle" stroke="#4272a2" stroke-width="0.18">10</text>
<text x="186.2" y="624.6" font-size="6.7" fill="#4272a2" text-anchor="middle" stroke="#4272a2" stroke-width="0.18">10</text>
<text x="200.2" y="624.6" font-size="6.7" fill="#4272a2" text-anchor="middle" stroke="#4272a2" stroke-width="0.18">6</text>
<text x="214.2" y="624.6" font-size="6.7" fill="#4272a2" text-anchor="middle" stroke="#4272a2" stroke-width="0.18">4</text>
<text x="228.2" y="624.6" font-size="6.7" fill="#4272a2" text-anchor="middle" stroke="#4272a2" stroke-width="0.18">1</text>
<text x="242.2" y="624.6" font-size="6.7" fill="#4272a2" text-anchor="middle" stroke="#4272a2" stroke-width="0.18">1</text>
<text x="256.2" y="624.6" font-size="6.7" fill="#4272a2" text-anchor="middle" stroke="#4272a2" stroke-width="0.18">0</text>
<text x="270.2" y="624.6" font-size="6.7" fill="#4272a2" text-anchor="middle" stroke="#4272a2" stroke-width="0.18">0</text>
<rect x="355.3" y="460.9" width="4.4" height="18.4" fill="rgb(252,222,185)" />
<rect x="359.7" y="460.9" width="14.9" height="14.1" fill="rgb(246,196,165)" />
<rect x="359.7" y="475" width="14.9" height="7" fill="rgb(248,205,172)" />
<rect x="359.7" y="482" width="14.9" height="8.5" fill="rgb(252,225,190)" />
<rect x="359.7" y="461.3" width="142.6" height="4.2" fill="rgb(241,203,164)" />
<rect x="374.6" y="465.5" width="127.7" height="3" fill="rgb(248,193,174)" />
<rect x="374.6" y="468.5" width="127.7" height="20.5" fill="rgb(246,199,165)" />
<path d="M355.5 460.9H355.6V465H357.8V467.3H359.7V471.3H374.3V475.6H502.3" fill="none" stroke="#e0904a" stroke-width="1.1" stroke-linejoin="miter" stroke-linecap="butt"/>
<path d="M355.5 460.9H355.6V465H357.8V467.3H359.7V471.3H374.3V475.6H502.3" fill="none" stroke="#b8404a" stroke-width="0.6" stroke-linejoin="miter" stroke-linecap="butt"/>
<line x1="380" y1="474.5" x2="380" y2="476.7" stroke="#a84a40" stroke-width="0.7" />
<line x1="384" y1="474.5" x2="384" y2="476.7" stroke="#a84a40" stroke-width="0.7" />
<line x1="388" y1="474.5" x2="388" y2="476.7" stroke="#a84a40" stroke-width="0.7" />
<line x1="391" y1="474.5" x2="391" y2="476.7" stroke="#a84a40" stroke-width="0.7" />
<line x1="395" y1="474.5" x2="395" y2="476.7" stroke="#a84a40" stroke-width="0.7" />
<line x1="399" y1="474.5" x2="399" y2="476.7" stroke="#a84a40" stroke-width="0.7" />
<line x1="403" y1="474.5" x2="403" y2="476.7" stroke="#a84a40" stroke-width="0.7" />
<line x1="407" y1="474.5" x2="407" y2="476.7" stroke="#a84a40" stroke-width="0.7" />
<line x1="411" y1="474.5" x2="411" y2="476.7" stroke="#a84a40" stroke-width="0.7" />
<line x1="414" y1="474.5" x2="414" y2="476.7" stroke="#a84a40" stroke-width="0.7" />
<line x1="418" y1="474.5" x2="418" y2="476.7" stroke="#a84a40" stroke-width="0.7" />
<line x1="422" y1="474.5" x2="422" y2="476.7" stroke="#a84a40" stroke-width="0.7" />
<line x1="426" y1="474.5" x2="426" y2="476.7" stroke="#a84a40" stroke-width="0.7" />
<line x1="432" y1="474.5" x2="432" y2="476.7" stroke="#a84a40" stroke-width="0.7" />
<line x1="441" y1="474.5" x2="441" y2="476.7" stroke="#a84a40" stroke-width="0.7" />
<line x1="450" y1="474.5" x2="450" y2="476.7" stroke="#a84a40" stroke-width="0.7" />
<line x1="459" y1="474.5" x2="459" y2="476.7" stroke="#a84a40" stroke-width="0.7" />
<line x1="470" y1="474.5" x2="470" y2="476.7" stroke="#a84a40" stroke-width="0.7" />
<line x1="488" y1="474.5" x2="488" y2="476.7" stroke="#a84a40" stroke-width="0.7" />
<line x1="502" y1="474.5" x2="502" y2="476.7" stroke="#a84a40" stroke-width="0.7" />
<path d="M355.5 460.9H485.2" fill="none" stroke="#8a8a8e" stroke-width="1" stroke-linejoin="miter" stroke-linecap="butt"/>
<line x1="382" y1="459.8" x2="382" y2="462" stroke="#707070" stroke-width="0.7" />
<line x1="485" y1="459.8" x2="485" y2="462" stroke="#707070" stroke-width="0.7" />
<text x="296" y="448.8" font-size="11.8" fill="#111" font-weight="bold" stroke="#111" stroke-width="0.18">F</text>
<text x="395.8" y="450" font-size="9.8" fill="#2b2b2b" textLength="61.4" lengthAdjust="spacingAndGlyphs" stroke="#2b2b2b" stroke-width="0.18">Overall Survival</text>
<line x1="348.5" y1="455.6" x2="348.5" y2="570.5" stroke="#1c1c1c" stroke-width="1.25" />
<line x1="345.8" y1="460.8" x2="348.5" y2="460.8" stroke="#1c1c1c" stroke-width="1.15" />
<text x="341.8" y="463.05" font-size="6.5" fill="#3a3a3a" text-anchor="end" stroke="#3a3a3a" stroke-width="0.18">100%</text>
<line x1="345.8" y1="486.9" x2="348.5" y2="486.9" stroke="#1c1c1c" stroke-width="1.15" />
<text x="341.8" y="489.15" font-size="6.5" fill="#3a3a3a" text-anchor="end" stroke="#3a3a3a" stroke-width="0.18">75%</text>
<line x1="345.8" y1="513" x2="348.5" y2="513" stroke="#1c1c1c" stroke-width="1.15" />
<text x="341.8" y="515.25" font-size="6.5" fill="#3a3a3a" text-anchor="end" stroke="#3a3a3a" stroke-width="0.18">50%</text>
<line x1="345.8" y1="539.1" x2="348.5" y2="539.1" stroke="#1c1c1c" stroke-width="1.15" />
<text x="341.8" y="541.35" font-size="6.5" fill="#3a3a3a" text-anchor="end" stroke="#3a3a3a" stroke-width="0.18">25%</text>
<line x1="345.8" y1="565.2" x2="348.5" y2="565.2" stroke="#1c1c1c" stroke-width="1.15" />
<text x="341.8" y="567.45" font-size="6.5" fill="#3a3a3a" text-anchor="end" stroke="#3a3a3a" stroke-width="0.18">0%</text>
<line x1="348" y1="570" x2="505.3" y2="570" stroke="#1c1c1c" stroke-width="1.25" />
<line x1="355.3" y1="570" x2="355.3" y2="573" stroke="#1c1c1c" stroke-width="1.15" />
<text x="355.3" y="582.3" font-size="6.4" fill="#3a3a3a" text-anchor="middle" stroke="#3a3a3a" stroke-width="0.18">0</text>
<line x1="369.3" y1="570" x2="369.3" y2="573" stroke="#1c1c1c" stroke-width="1.15" />
<text x="369.3" y="582.3" font-size="6.4" fill="#3a3a3a" text-anchor="middle" stroke="#3a3a3a" stroke-width="0.18">2</text>
<line x1="383.3" y1="570" x2="383.3" y2="573" stroke="#1c1c1c" stroke-width="1.15" />
<text x="383.3" y="582.3" font-size="6.4" fill="#3a3a3a" text-anchor="middle" stroke="#3a3a3a" stroke-width="0.18">4</text>
<line x1="397.3" y1="570" x2="397.3" y2="573" stroke="#1c1c1c" stroke-width="1.15" />
<text x="397.3" y="582.3" font-size="6.4" fill="#3a3a3a" text-anchor="middle" stroke="#3a3a3a" stroke-width="0.18">6</text>
<line x1="411.3" y1="570" x2="411.3" y2="573" stroke="#1c1c1c" stroke-width="1.15" />
<text x="411.3" y="582.3" font-size="6.4" fill="#3a3a3a" text-anchor="middle" stroke="#3a3a3a" stroke-width="0.18">8</text>
<line x1="425.3" y1="570" x2="425.3" y2="573" stroke="#1c1c1c" stroke-width="1.15" />
<text x="425.3" y="582.3" font-size="6.4" fill="#3a3a3a" text-anchor="middle" stroke="#3a3a3a" stroke-width="0.18">10</text>
<line x1="439.3" y1="570" x2="439.3" y2="573" stroke="#1c1c1c" stroke-width="1.15" />
<text x="439.3" y="582.3" font-size="6.4" fill="#3a3a3a" text-anchor="middle" stroke="#3a3a3a" stroke-width="0.18">12</text>
<line x1="453.3" y1="570" x2="453.3" y2="573" stroke="#1c1c1c" stroke-width="1.15" />
<text x="453.3" y="582.3" font-size="6.4" fill="#3a3a3a" text-anchor="middle" stroke="#3a3a3a" stroke-width="0.18">14</text>
<line x1="467.3" y1="570" x2="467.3" y2="573" stroke="#1c1c1c" stroke-width="1.15" />
<text x="467.3" y="582.3" font-size="6.4" fill="#3a3a3a" text-anchor="middle" stroke="#3a3a3a" stroke-width="0.18">16</text>
<line x1="481.3" y1="570" x2="481.3" y2="573" stroke="#1c1c1c" stroke-width="1.15" />
<text x="481.3" y="582.3" font-size="6.4" fill="#3a3a3a" text-anchor="middle" stroke="#3a3a3a" stroke-width="0.18">18</text>
<line x1="495.3" y1="570" x2="495.3" y2="573" stroke="#1c1c1c" stroke-width="1.15" />
<text x="495.3" y="582.3" font-size="6.4" fill="#3a3a3a" text-anchor="middle" stroke="#3a3a3a" stroke-width="0.18">20</text>
<text x="402" y="594.4" font-size="9.4" fill="#2b2b2b" textLength="48.6" lengthAdjust="spacingAndGlyphs" stroke="#2b2b2b" stroke-width="0.18">Years post-HSCT</text>
<text transform="translate(319.6 512.7) rotate(-90)" x="0" y="0" font-size="8" fill="#333" text-anchor="middle" textLength="66.5" lengthAdjust="spacingAndGlyphs">Probability of survival</text>
<text x="357" y="535.8" font-size="6.6" fill="#2b2b2b" stroke="#2b2b2b" stroke-width="0.18">Log-rank</text>
<text x="357" y="545.8" font-size="6.6" fill="#2b2b2b" stroke="#2b2b2b" stroke-width="0.18"><tspan font-style="italic">P</tspan> = .86</text>
<text x="466" y="536.8" font-size="6.7" fill="#2b2b2b" stroke="#2b2b2b" stroke-width="0.18">Strata</text>
<rect x="466" y="540.5" width="8" height="4" fill="rgb(225,135,149)" fill-opacity="0.7"/>
<line x1="466.4" y1="542.5" x2="473.6" y2="542.5" stroke="#a8304e" stroke-width="0.9" />
<text x="476.9" y="544.8" font-size="6.7" fill="#2b2b2b" stroke="#2b2b2b" stroke-width="0.18">MAC</text>
<rect x="466" y="548" width="8" height="4" fill="rgb(137,169,195)" fill-opacity="0.7"/>
<line x1="466.4" y1="550" x2="473.6" y2="550" stroke="#2e5c7e" stroke-width="0.9" />
<text x="476.9" y="552.3" font-size="6.7" fill="#2b2b2b" stroke="#2b2b2b" stroke-width="0.18">None</text>
<rect x="466" y="555.6" width="8" height="4" fill="rgb(249,197,129)" fill-opacity="0.7"/>
<line x1="466.4" y1="557.6" x2="473.6" y2="557.6" stroke="#e8a23a" stroke-width="0.9" />
<text x="476.9" y="559.9" font-size="6.7" fill="#2b2b2b" stroke="#2b2b2b" stroke-width="0.18">RIC</text>
<text x="348.5" y="603.8" font-size="6.7" fill="#2b2b2b" textLength="44.2" lengthAdjust="spacingAndGlyphs" stroke="#2b2b2b" stroke-width="0.18">Number at risk</text>
<line x1="348.5" y1="608.8" x2="348.5" y2="638.1" stroke="#1c1c1c" stroke-width="1.25" />
<line x1="348" y1="637.6" x2="505.3" y2="637.6" stroke="#1c1c1c" stroke-width="1.25" />
<line x1="355.3" y1="637.6" x2="355.3" y2="640.6" stroke="#1c1c1c" stroke-width="1.15" />
<text x="355.3" y="649.5" font-size="6.4" fill="#3a3a3a" text-anchor="middle" stroke="#3a3a3a" stroke-width="0.18">0</text>
<line x1="369.3" y1="637.6" x2="369.3" y2="640.6" stroke="#1c1c1c" stroke-width="1.15" />
<text x="369.3" y="649.5" font-size="6.4" fill="#3a3a3a" text-anchor="middle" stroke="#3a3a3a" stroke-width="0.18">2</text>
<line x1="383.3" y1="637.6" x2="383.3" y2="640.6" stroke="#1c1c1c" stroke-width="1.15" />
<text x="383.3" y="649.5" font-size="6.4" fill="#3a3a3a" text-anchor="middle" stroke="#3a3a3a" stroke-width="0.18">4</text>
<line x1="397.3" y1="637.6" x2="397.3" y2="640.6" stroke="#1c1c1c" stroke-width="1.15" />
<text x="397.3" y="649.5" font-size="6.4" fill="#3a3a3a" text-anchor="middle" stroke="#3a3a3a" stroke-width="0.18">6</text>
<line x1="411.3" y1="637.6" x2="411.3" y2="640.6" stroke="#1c1c1c" stroke-width="1.15" />
<text x="411.3" y="649.5" font-size="6.4" fill="#3a3a3a" text-anchor="middle" stroke="#3a3a3a" stroke-width="0.18">8</text>
<line x1="425.3" y1="637.6" x2="425.3" y2="640.6" stroke="#1c1c1c" stroke-width="1.15" />
<text x="425.3" y="649.5" font-size="6.4" fill="#3a3a3a" text-anchor="middle" stroke="#3a3a3a" stroke-width="0.18">10</text>
<line x1="439.3" y1="637.6" x2="439.3" y2="640.6" stroke="#1c1c1c" stroke-width="1.15" />
<text x="439.3" y="649.5" font-size="6.4" fill="#3a3a3a" text-anchor="middle" stroke="#3a3a3a" stroke-width="0.18">12</text>
<line x1="453.3" y1="637.6" x2="453.3" y2="640.6" stroke="#1c1c1c" stroke-width="1.15" />
<text x="453.3" y="649.5" font-size="6.4" fill="#3a3a3a" text-anchor="middle" stroke="#3a3a3a" stroke-width="0.18">14</text>
<line x1="467.3" y1="637.6" x2="467.3" y2="640.6" stroke="#1c1c1c" stroke-width="1.15" />
<text x="467.3" y="649.5" font-size="6.4" fill="#3a3a3a" text-anchor="middle" stroke="#3a3a3a" stroke-width="0.18">16</text>
<line x1="481.3" y1="637.6" x2="481.3" y2="640.6" stroke="#1c1c1c" stroke-width="1.15" />
<text x="481.3" y="649.5" font-size="6.4" fill="#3a3a3a" text-anchor="middle" stroke="#3a3a3a" stroke-width="0.18">18</text>
<line x1="495.3" y1="637.6" x2="495.3" y2="640.6" stroke="#1c1c1c" stroke-width="1.15" />
<text x="495.3" y="649.5" font-size="6.4" fill="#3a3a3a" text-anchor="middle" stroke="#3a3a3a" stroke-width="0.18">20</text>
<line x1="345.8" y1="614" x2="348.5" y2="614" stroke="#1c1c1c" stroke-width="1.15" />
<text x="342.2" y="616.3" font-size="6.7" fill="#cc3660" text-anchor="end" stroke="#cc3660" stroke-width="0.18">MAC</text>
<text x="355.3" y="616.3" font-size="6.7" fill="#cc3660" text-anchor="middle" stroke="#cc3660" stroke-width="0.18">29</text>
<text x="369.3" y="616.3" font-size="6.7" fill="#cc3660" text-anchor="middle" stroke="#cc3660" stroke-width="0.18">24</text>
<text x="383.3" y="616.3" font-size="6.7" fill="#cc3660" text-anchor="middle" stroke="#cc3660" stroke-width="0.18">20</text>
<text x="397.3" y="616.3" font-size="6.7" fill="#cc3660" text-anchor="middle" stroke="#cc3660" stroke-width="0.18">17</text>
<text x="411.3" y="616.3" font-size="6.7" fill="#cc3660" text-anchor="middle" stroke="#cc3660" stroke-width="0.18">13</text>
<text x="425.3" y="616.3" font-size="6.7" fill="#cc3660" text-anchor="middle" stroke="#cc3660" stroke-width="0.18">9</text>
<text x="439.3" y="616.3" font-size="6.7" fill="#cc3660" text-anchor="middle" stroke="#cc3660" stroke-width="0.18">7</text>
<text x="453.3" y="616.3" font-size="6.7" fill="#cc3660" text-anchor="middle" stroke="#cc3660" stroke-width="0.18">2</text>
<text x="467.3" y="616.3" font-size="6.7" fill="#cc3660" text-anchor="middle" stroke="#cc3660" stroke-width="0.18">2</text>
<text x="481.3" y="616.3" font-size="6.7" fill="#cc3660" text-anchor="middle" stroke="#cc3660" stroke-width="0.18">1</text>
<text x="495.3" y="616.3" font-size="6.7" fill="#cc3660" text-anchor="middle" stroke="#cc3660" stroke-width="0.18">1</text>
<line x1="345.8" y1="622.9" x2="348.5" y2="622.9" stroke="#1c1c1c" stroke-width="1.15" />
<text x="342.2" y="625.2" font-size="6.7" fill="#4272a2" text-anchor="end" stroke="#4272a2" stroke-width="0.18">None</text>
<text x="355.3" y="625.2" font-size="6.7" fill="#4272a2" text-anchor="middle" stroke="#4272a2" stroke-width="0.18">2</text>
<text x="369.3" y="625.2" font-size="6.7" fill="#4272a2" text-anchor="middle" stroke="#4272a2" stroke-width="0.18">2</text>
<text x="383.3" y="625.2" font-size="6.7" fill="#4272a2" text-anchor="middle" stroke="#4272a2" stroke-width="0.18">1</text>
<text x="397.3" y="625.2" font-size="6.7" fill="#4272a2" text-anchor="middle" stroke="#4272a2" stroke-width="0.18">1</text>
<text x="411.3" y="625.2" font-size="6.7" fill="#4272a2" text-anchor="middle" stroke="#4272a2" stroke-width="0.18">1</text>
<text x="425.3" y="625.2" font-size="6.7" fill="#4272a2" text-anchor="middle" stroke="#4272a2" stroke-width="0.18">1</text>
<text x="439.3" y="625.2" font-size="6.7" fill="#4272a2" text-anchor="middle" stroke="#4272a2" stroke-width="0.18">1</text>
<text x="453.3" y="625.2" font-size="6.7" fill="#4272a2" text-anchor="middle" stroke="#4272a2" stroke-width="0.18">1</text>
<text x="467.3" y="625.2" font-size="6.7" fill="#4272a2" text-anchor="middle" stroke="#4272a2" stroke-width="0.18">1</text>
<text x="481.3" y="625.2" font-size="6.7" fill="#4272a2" text-anchor="middle" stroke="#4272a2" stroke-width="0.18">1</text>
<text x="495.3" y="625.2" font-size="6.7" fill="#4272a2" text-anchor="middle" stroke="#4272a2" stroke-width="0.18">0</text>
<line x1="345.8" y1="632.1" x2="348.5" y2="632.1" stroke="#1c1c1c" stroke-width="1.15" />
<text x="342.2" y="634.4" font-size="6.7" fill="#eaa955" text-anchor="end" stroke="#eaa955" stroke-width="0.18">RIC</text>
<text x="355.3" y="634.4" font-size="6.7" fill="#eaa955" text-anchor="middle" stroke="#eaa955" stroke-width="0.18">15</text>
<text x="369.3" y="634.4" font-size="6.7" fill="#eaa955" text-anchor="middle" stroke="#eaa955" stroke-width="0.18">12</text>
<text x="383.3" y="634.4" font-size="6.7" fill="#eaa955" text-anchor="middle" stroke="#eaa955" stroke-width="0.18">10</text>
<text x="397.3" y="634.4" font-size="6.7" fill="#eaa955" text-anchor="middle" stroke="#eaa955" stroke-width="0.18">8</text>
<text x="411.3" y="634.4" font-size="6.7" fill="#eaa955" text-anchor="middle" stroke="#eaa955" stroke-width="0.18">6</text>
<text x="425.3" y="634.4" font-size="6.7" fill="#eaa955" text-anchor="middle" stroke="#eaa955" stroke-width="0.18">3</text>
<text x="439.3" y="634.4" font-size="6.7" fill="#eaa955" text-anchor="middle" stroke="#eaa955" stroke-width="0.18">2</text>
<text x="453.3" y="634.4" font-size="6.7" fill="#eaa955" text-anchor="middle" stroke="#eaa955" stroke-width="0.18">1</text>
<text x="467.3" y="634.4" font-size="6.7" fill="#eaa955" text-anchor="middle" stroke="#eaa955" stroke-width="0.18">1</text>
<text x="481.3" y="634.4" font-size="6.7" fill="#eaa955" text-anchor="middle" stroke="#eaa955" stroke-width="0.18">1</text>
<text x="495.3" y="634.4" font-size="6.7" fill="#eaa955" text-anchor="middle" stroke="#eaa955" stroke-width="0.18">1</text>
<rect x="0.5" y="0.5" width="519" height="657" fill="none" stroke="#4a4a4a" stroke-width="1"/>
</svg>
</body></html>
